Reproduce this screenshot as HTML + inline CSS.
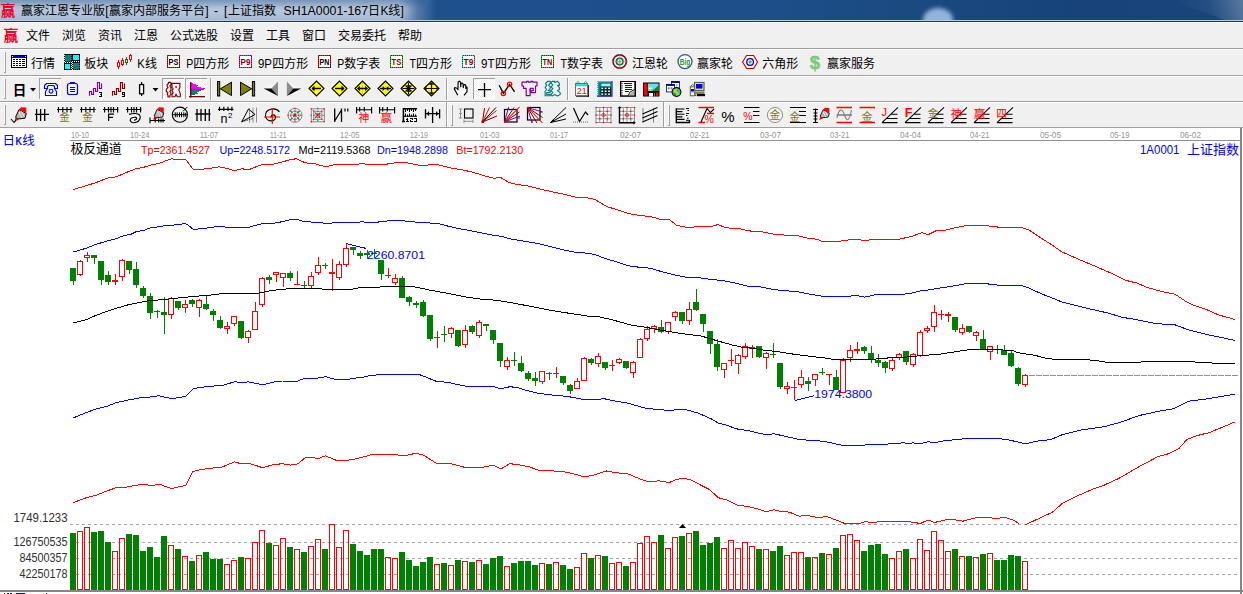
<!DOCTYPE html>
<html><head><meta charset="utf-8"><title>chart</title>
<style>html,body{margin:0;padding:0;background:#f0f0f0;overflow:hidden}svg{display:block}text{font-family:"Liberation Sans","Noto Sans CJK SC",sans-serif}</style>
</head><body>
<svg width="1243" height="594" viewBox="0 0 1243 594">
<defs>
<linearGradient id="tbg" x1="0" y1="0" x2="1" y2="0"><stop offset="0" stop-color="#20518f"/><stop offset=".36" stop-color="#1f508e"/><stop offset=".6" stop-color="#1e4f8b"/><stop offset=".73" stop-color="#1a4a80"/><stop offset=".88" stop-color="#17427a"/><stop offset="1" stop-color="#19457c"/></linearGradient>
<linearGradient id="glow" x1="0" y1="0" x2="450" y2="0" gradientUnits="userSpaceOnUse"><stop offset="0" stop-color="#fff" stop-opacity=".56"/><stop offset=".885" stop-color="#fff" stop-opacity=".56"/><stop offset=".93" stop-color="#fff" stop-opacity=".22"/><stop offset=".97" stop-color="#fff" stop-opacity="0"/></linearGradient>
<linearGradient id="topd" x1="0" y1="0" x2="0" y2="1"><stop offset="0" stop-color="#1f508e" stop-opacity=".32"/><stop offset="1" stop-color="#1f508e" stop-opacity="0"/></linearGradient>
<linearGradient id="streak" x1="1180" y1="20" x2="1243" y2="0" gradientUnits="userSpaceOnUse"><stop offset="0" stop-color="#fff" stop-opacity="0"/><stop offset=".5" stop-color="#fff" stop-opacity=".06"/><stop offset="1" stop-color="#fff" stop-opacity=".28"/></linearGradient>
<filter id="b5" x="-10%" y="-200%" width="120%" height="500%"><feGaussianBlur stdDeviation="5"/></filter>
<filter id="b3" x="-50%" y="-50%" width="200%" height="200%"><feGaussianBlur stdDeviation="2"/></filter>
<clipPath id="tclip"><rect x="0" y="0" width="1243" height="20"/></clipPath>
<pattern id="dith2" width="2" height="2" patternUnits="userSpaceOnUse"><rect width="1" height="1" fill="#003030"/><rect x="1" y="1" width="1" height="1" fill="#003030"/></pattern><pattern id="dith" width="2" height="2" patternUnits="userSpaceOnUse"><rect width="2" height="2" fill="#ffffff"/><rect width="1" height="1" fill="#f0f0f0"/><rect x="1" y="1" width="1" height="1" fill="#f0f0f0"/></pattern>
</defs>
<rect x="0" y="0" width="1243" height="594" fill="#f0f0f0"/>
<rect x="0" y="0" width="1243" height="20" fill="url(#tbg)"/>
<ellipse cx="938" cy="20" rx="15" ry="12" fill="#a8c8ec" opacity=".85" filter="url(#b3)" clip-path="url(#tclip)"/>
<rect x="0" y="0" width="450" height="20" fill="url(#glow)"/>
<rect x="-30" y="5" width="440" height="12" rx="6" fill="#fff" opacity=".30" filter="url(#b5)" clip-path="url(#tclip)"/>
<path d="M1170 0L1243 0L1243 20L1225 20Z" fill="url(#streak)"/>
<rect x="0" y="0" width="425" height="8" fill="url(#topd)"/>
<rect x="0" y="20" width="1243" height="1" fill="#b9cde6"/>
<rect x="0" y="21" width="1243" height="1" fill="#1b3556"/>
<rect x="0" y="22" width="1243" height="1" fill="#ffffff"/>
<text x="0.80" y="16.20" font-family="'Liberation Serif','Noto Serif CJK SC',serif" font-size="14.6" font-weight="bold" fill="#f4002a">赢</text>
<text x="21.00" y="14.90" font-family="'Liberation Sans','Noto Sans CJK SC',sans-serif" font-size="12" fill="#000">赢家江恩专业版</text>
<text x="105.30" y="14.90" font-family="Liberation Sans" font-size="12" fill="#000" text-anchor="start" font-weight="normal" >[</text>
<text x="109.00" y="14.90" font-family="'Liberation Sans','Noto Sans CJK SC',sans-serif" font-size="12" fill="#000">赢家内部服务平台</text>
<text x="205.30" y="14.90" font-family="Liberation Sans" font-size="12" fill="#000" text-anchor="start" font-weight="normal" >]</text>
<text x="214.00" y="14.90" font-family="Liberation Sans" font-size="12" fill="#000" text-anchor="start" font-weight="normal" >-</text>
<text x="224.00" y="14.90" font-family="Liberation Sans" font-size="12" fill="#000" text-anchor="start" font-weight="normal" >[</text>
<text x="228.00" y="14.90" font-family="'Liberation Sans','Noto Sans CJK SC',sans-serif" font-size="12" fill="#000">上证指数</text>
<text x="283.50" y="14.90" font-family="Liberation Sans" font-size="12" fill="#000" text-anchor="start" font-weight="normal" textLength="84.50" lengthAdjust="spacingAndGlyphs" >SH1A0001-167</text>
<text x="368.00" y="14.90" font-family="'Liberation Sans','Noto Sans CJK SC',sans-serif" font-size="12" fill="#000">日</text>
<text x="380.50" y="14.90" font-family="Liberation Sans" font-size="12" fill="#000" text-anchor="start" font-weight="normal" >K</text>
<text x="388.30" y="14.90" font-family="'Liberation Sans','Noto Sans CJK SC',sans-serif" font-size="12" fill="#000">线</text>
<text x="400.60" y="14.90" font-family="Liberation Sans" font-size="12" fill="#000" text-anchor="start" font-weight="normal" >]</text>
<text x="3.60" y="40.60" font-family="'Liberation Serif','Noto Serif CJK SC',serif" font-size="14.8" font-weight="bold" fill="#f4002a">赢</text>
<text x="26.00" y="40.20" font-family="'Liberation Sans','Noto Sans CJK SC',sans-serif" font-size="12" fill="#000">文件</text>
<text x="62.00" y="40.20" font-family="'Liberation Sans','Noto Sans CJK SC',sans-serif" font-size="12" fill="#000">浏览</text>
<text x="98.00" y="40.20" font-family="'Liberation Sans','Noto Sans CJK SC',sans-serif" font-size="12" fill="#000">资讯</text>
<text x="134.00" y="40.20" font-family="'Liberation Sans','Noto Sans CJK SC',sans-serif" font-size="12" fill="#000">江恩</text>
<text x="170.00" y="40.20" font-family="'Liberation Sans','Noto Sans CJK SC',sans-serif" font-size="12" fill="#000">公式选股</text>
<text x="230.00" y="40.20" font-family="'Liberation Sans','Noto Sans CJK SC',sans-serif" font-size="12" fill="#000">设置</text>
<text x="266.00" y="40.20" font-family="'Liberation Sans','Noto Sans CJK SC',sans-serif" font-size="12" fill="#000">工具</text>
<text x="302.00" y="40.20" font-family="'Liberation Sans','Noto Sans CJK SC',sans-serif" font-size="12" fill="#000">窗口</text>
<text x="338.00" y="40.20" font-family="'Liberation Sans','Noto Sans CJK SC',sans-serif" font-size="12" fill="#000">交易委托</text>
<text x="398.00" y="40.20" font-family="'Liberation Sans','Noto Sans CJK SC',sans-serif" font-size="12" fill="#000">帮助</text>
<rect x="0" y="48" width="1243" height="1" fill="#a0a0a0"/>
<rect x="0" y="49" width="1243" height="1" fill="#ffffff"/>
<rect x="0" y="75" width="1243" height="1" fill="#a0a0a0"/>
<rect x="0" y="76" width="1243" height="1" fill="#ffffff"/>
<rect x="0" y="101" width="1243" height="1" fill="#a0a0a0"/>
<rect x="0" y="102" width="1243" height="1" fill="#ffffff"/>
<rect x="0" y="127" width="1243" height="1" fill="#a0a0a0"/>
<rect x="4" y="52" width="1" height="20" fill="#ffffff"/><rect x="5" y="52" width="1" height="20" fill="#a0a0a0"/><rect x="4" y="72" width="2" height="1" fill="#a0a0a0"/>
<rect x="4" y="79" width="1" height="19" fill="#ffffff"/><rect x="5" y="79" width="1" height="19" fill="#a0a0a0"/><rect x="4" y="98" width="2" height="1" fill="#a0a0a0"/>
<rect x="4" y="105" width="1" height="19" fill="#ffffff"/><rect x="5" y="105" width="1" height="19" fill="#a0a0a0"/><rect x="4" y="124" width="2" height="1" fill="#a0a0a0"/>
<rect x="11" y="55" width="16" height="13" fill="#000" shape-rendering="crispEdges"/><rect x="12" y="56" width="14" height="11" fill="#fff" shape-rendering="crispEdges"/><rect x="12" y="56" width="14" height="2" fill="#0000e0" shape-rendering="crispEdges"/><rect x="12" y="56" width="1" height="1" fill="#fff" shape-rendering="crispEdges"/><rect x="25" y="56" width="1" height="1" fill="#fff" shape-rendering="crispEdges"/><rect x="13" y="59" width="2" height="1" fill="#000" shape-rendering="crispEdges"/><rect x="16" y="59" width="2" height="1" fill="#000" shape-rendering="crispEdges"/><rect x="19" y="59" width="2" height="1" fill="#000" shape-rendering="crispEdges"/><rect x="22" y="59" width="3" height="1" fill="#000" shape-rendering="crispEdges"/><rect x="13" y="61" width="2" height="1" fill="#000" shape-rendering="crispEdges"/><rect x="16" y="61" width="2" height="1" fill="#000" shape-rendering="crispEdges"/><rect x="19" y="61" width="2" height="1" fill="#000" shape-rendering="crispEdges"/><rect x="22" y="61" width="3" height="1" fill="#000" shape-rendering="crispEdges"/><rect x="13" y="63" width="2" height="1" fill="#000" shape-rendering="crispEdges"/><rect x="16" y="63" width="2" height="1" fill="#000" shape-rendering="crispEdges"/><rect x="19" y="63" width="2" height="1" fill="#000" shape-rendering="crispEdges"/><rect x="22" y="63" width="3" height="1" fill="#000" shape-rendering="crispEdges"/><rect x="13" y="65" width="2" height="1" fill="#000" shape-rendering="crispEdges"/><rect x="16" y="65" width="2" height="1" fill="#000" shape-rendering="crispEdges"/><rect x="19" y="65" width="2" height="1" fill="#000" shape-rendering="crispEdges"/><rect x="22" y="65" width="3" height="1" fill="#000" shape-rendering="crispEdges"/><text x="31.00" y="67.70" font-family="'Liberation Sans','Noto Sans CJK SC',sans-serif" font-size="12" fill="#000">行情</text><rect x="64" y="54" width="16" height="16" fill="url(#dith2)" shape-rendering="crispEdges"/><rect x="64.5" y="54.5" width="7" height="7" fill="#008080" stroke="#000" stroke-dasharray="1 1" shape-rendering="crispEdges"/><rect x="72.5" y="54.5" width="7" height="6" fill="#00ffff" stroke="#000" shape-rendering="crispEdges"/><rect x="64.5" y="63.5" width="6" height="6" fill="#00ffff" stroke="#000" shape-rendering="crispEdges"/><rect x="72.5" y="62.5" width="7" height="7" fill="#008080" stroke="#000" stroke-dasharray="1 1" shape-rendering="crispEdges"/><text x="84.30" y="67.70" font-family="'Liberation Sans','Noto Sans CJK SC',sans-serif" font-size="12" fill="#000">板块</text><rect x="118" y="60" width="1" height="9" fill="#ff0000" shape-rendering="crispEdges"/><rect x="117" y="62" width="3" height="5" fill="#ff0000" shape-rendering="crispEdges"/><rect x="118" y="63" width="1" height="3" fill="#f0f0f0" shape-rendering="crispEdges"/><rect x="122" y="58" width="1" height="8" fill="#ff0000" shape-rendering="crispEdges"/><rect x="121" y="60" width="3" height="5" fill="#ff0000" shape-rendering="crispEdges"/><rect x="122" y="61" width="1" height="3" fill="#f0f0f0" shape-rendering="crispEdges"/><rect x="126" y="57" width="1" height="8" fill="#008000" shape-rendering="crispEdges"/><rect x="125" y="59" width="3" height="4" fill="#008000" shape-rendering="crispEdges"/><rect x="126" y="60" width="1" height="2" fill="#f0f0f0" shape-rendering="crispEdges"/><rect x="130" y="54" width="1" height="8" fill="#ff0000" shape-rendering="crispEdges"/><rect x="129" y="55" width="3" height="5" fill="#ff0000" shape-rendering="crispEdges"/><rect x="130" y="56" width="1" height="3" fill="#f0f0f0" shape-rendering="crispEdges"/><text x="137.30" y="67.70" font-family="Liberation Sans" font-size="12" fill="#000" text-anchor="start" font-weight="normal" textLength="7.50" lengthAdjust="spacingAndGlyphs" >K</text><text x="145.00" y="67.70" font-family="'Liberation Sans','Noto Sans CJK SC',sans-serif" font-size="12" fill="#000">线</text><rect x="167.5" y="55.5" width="12" height="12" fill="#fff" stroke="#ff0000" stroke-width="1" shape-rendering="crispEdges"/><rect x="167.5" y="55.5" width="12" height="12" fill="none" stroke="#400000" stroke-opacity=".75" stroke-width="1" stroke-dasharray="1 1" shape-rendering="crispEdges"/><text x="168.60" y="65.00" font-family="Liberation Sans" font-size="8.5" fill="#000" text-anchor="start" font-weight="bold" textLength="9.80" lengthAdjust="spacingAndGlyphs" >PS</text><text x="186.30" y="67.70" font-family="Liberation Sans" font-size="12" fill="#000" text-anchor="start" font-weight="normal" textLength="7.00" lengthAdjust="spacingAndGlyphs" >P</text><text x="193.30" y="67.70" font-family="'Liberation Sans','Noto Sans CJK SC',sans-serif" font-size="12" fill="#000">四方形</text><rect x="239.5" y="55.5" width="12" height="12" fill="#fff" stroke="#ff00ff" stroke-width="1" shape-rendering="crispEdges"/><rect x="239.5" y="55.5" width="12" height="12" fill="none" stroke="#400000" stroke-opacity=".75" stroke-width="1" stroke-dasharray="1 1" shape-rendering="crispEdges"/><text x="240.60" y="65.00" font-family="Liberation Sans" font-size="8.5" fill="#800000" text-anchor="start" font-weight="bold" textLength="9.80" lengthAdjust="spacingAndGlyphs" >P9</text><text x="258.00" y="67.70" font-family="Liberation Sans" font-size="12" fill="#000" text-anchor="start" font-weight="normal" textLength="14.00" lengthAdjust="spacingAndGlyphs" >9P</text><text x="272.30" y="67.70" font-family="'Liberation Sans','Noto Sans CJK SC',sans-serif" font-size="12" fill="#000">四方形</text><rect x="318.5" y="55.5" width="12" height="12" fill="#fff" stroke="#ff0000" stroke-width="1" shape-rendering="crispEdges"/><rect x="318.5" y="55.5" width="12" height="12" fill="none" stroke="#400000" stroke-opacity=".75" stroke-width="1" stroke-dasharray="1 1" shape-rendering="crispEdges"/><text x="319.60" y="65.00" font-family="Liberation Sans" font-size="8.5" fill="#000" text-anchor="start" font-weight="bold" textLength="9.80" lengthAdjust="spacingAndGlyphs" >PN</text><text x="337.30" y="67.70" font-family="Liberation Sans" font-size="12" fill="#000" text-anchor="start" font-weight="normal" textLength="7.00" lengthAdjust="spacingAndGlyphs" >P</text><text x="344.30" y="67.70" font-family="'Liberation Sans','Noto Sans CJK SC',sans-serif" font-size="12" fill="#000">数字表</text><rect x="390.5" y="55.5" width="12" height="12" fill="#fff" stroke="#00d000" stroke-width="1" shape-rendering="crispEdges"/><rect x="390.5" y="55.5" width="12" height="12" fill="none" stroke="#400000" stroke-opacity=".75" stroke-width="1" stroke-dasharray="1 1" shape-rendering="crispEdges"/><text x="391.60" y="65.00" font-family="Liberation Sans" font-size="8.5" fill="#800000" text-anchor="start" font-weight="bold" textLength="9.80" lengthAdjust="spacingAndGlyphs" >TS</text><text x="409.50" y="67.70" font-family="Liberation Sans" font-size="12" fill="#000" text-anchor="start" font-weight="normal" textLength="6.50" lengthAdjust="spacingAndGlyphs" >T</text><text x="416.00" y="67.70" font-family="'Liberation Sans','Noto Sans CJK SC',sans-serif" font-size="12" fill="#000">四方形</text><rect x="462.5" y="55.5" width="12" height="12" fill="#fff" stroke="#00e0e0" stroke-width="1" shape-rendering="crispEdges"/><rect x="462.5" y="55.5" width="12" height="12" fill="none" stroke="#400000" stroke-opacity=".75" stroke-width="1" stroke-dasharray="1 1" shape-rendering="crispEdges"/><text x="463.60" y="65.00" font-family="Liberation Sans" font-size="8.5" fill="#800000" text-anchor="start" font-weight="bold" textLength="9.80" lengthAdjust="spacingAndGlyphs" >T9</text><text x="481.00" y="67.70" font-family="Liberation Sans" font-size="12" fill="#000" text-anchor="start" font-weight="normal" textLength="13.50" lengthAdjust="spacingAndGlyphs" >9T</text><text x="495.00" y="67.70" font-family="'Liberation Sans','Noto Sans CJK SC',sans-serif" font-size="12" fill="#000">四方形</text><rect x="541.5" y="55.5" width="12" height="12" fill="#fff" stroke="#00d000" stroke-width="1" shape-rendering="crispEdges"/><rect x="541.5" y="55.5" width="12" height="12" fill="none" stroke="#400000" stroke-opacity=".75" stroke-width="1" stroke-dasharray="1 1" shape-rendering="crispEdges"/><text x="542.60" y="65.00" font-family="Liberation Sans" font-size="8.5" fill="#800000" text-anchor="start" font-weight="bold" textLength="9.80" lengthAdjust="spacingAndGlyphs" >TN</text><text x="560.50" y="67.70" font-family="Liberation Sans" font-size="12" fill="#000" text-anchor="start" font-weight="normal" textLength="6.50" lengthAdjust="spacingAndGlyphs" >T</text><text x="567.00" y="67.70" font-family="'Liberation Sans','Noto Sans CJK SC',sans-serif" font-size="12" fill="#000">数字表</text><circle cx="619.7" cy="61.5" r="6.7" fill="none" stroke="#801020" stroke-width="1.7"/><circle cx="619.7" cy="61.5" r="3.3" fill="none" stroke="#007838" stroke-width="1.6"/><circle cx="619.7" cy="61.5" r="1.3" fill="#f08080"/><path d="M612.2 61.5h15M619.7 54.0v15" stroke="#909090" stroke-width="0.6" fill="none" /><text x="632.00" y="67.70" font-family="'Liberation Sans','Noto Sans CJK SC',sans-serif" font-size="12" fill="#000">江恩轮</text><circle cx="685" cy="61.6" r="7" fill="#fff" stroke="#2c5c8c" stroke-width="1.3"/><text x="679.80" y="65.00" font-family="Liberation Sans" font-size="9.6" fill="#2f942f" text-anchor="start" font-weight="bold" textLength="10.60" lengthAdjust="spacingAndGlyphs" >Big</text><text x="697.00" y="67.70" font-family="'Liberation Sans','Noto Sans CJK SC',sans-serif" font-size="12" fill="#000">赢家轮</text><path d="M742.6 62L746.6 55.5H753.6L757.6 62L753.6 68.5H746.6Z" fill="#f8f0f0" stroke="#c00000" stroke-width="1.1"/><circle cx="750.1" cy="62" r="3.3" fill="#fff" stroke="#0000c8" stroke-width="1.3"/><circle cx="750.1" cy="62" r="1.1" fill="#fff" stroke="#009000" stroke-width="1"/><text x="762.30" y="67.70" font-family="'Liberation Sans','Noto Sans CJK SC',sans-serif" font-size="12" fill="#000">六角形</text><text x="815.00" y="68.60" font-family="Liberation Sans" font-size="18.5" fill="#7cc87c" text-anchor="middle" font-weight="bold" stroke="#7cc87c" stroke-width=".5">$</text><text x="827.00" y="67.70" font-family="'Liberation Sans','Noto Sans CJK SC',sans-serif" font-size="12" fill="#000">赢家服务</text>
<text x="12.80" y="94.60" font-family="'Liberation Sans','Noto Sans CJK SC',sans-serif" font-size="13.6" font-weight="bold" fill="#000">日</text><path d="M30 88h6l-3 3.5z" fill="#000"/><rect x="39" y="78" width="22" height="21" fill="url(#dith)" shape-rendering="crispEdges"/><rect x="39" y="78" width="22" height="1" fill="#a0a0a0" shape-rendering="crispEdges"/><rect x="39" y="78" width="1" height="21" fill="#a0a0a0" shape-rendering="crispEdges"/><rect x="40" y="98" width="21" height="1" fill="#fff" shape-rendering="crispEdges"/><rect x="60" y="79" width="1" height="20" fill="#fff" shape-rendering="crispEdges"/><path d="M46.5 83.5H55.5L57.5 85.5V88.5H54.5V86.5L53.5 85.5H48.5L47.5 86.5V88.5H44.5V85.5ZM47.5 88.5L45.5 91.5V95.5H56.5V91.5L54.5 88.5" stroke="#0000ff" stroke-width="1.1" fill="none" stroke-linejoin="round"/><circle cx="51" cy="91.2" r="1.9" fill="none" stroke="#0000ff" stroke-width="1.1"/><rect x="67.5" y="83.5" width="10" height="11" rx="2" fill="none" stroke="#0000ff" stroke-width="1.2"/><path d="M70.5 83V82.5H74.5V83" stroke="#0000ff" stroke-width="1.1" fill="none" /><path d="M70 87.5H75M70 89.5H75M70 91.5H75" stroke="#0000ff" stroke-width="1" fill="none" /><path d="M89.5 95.7V91.5H91.5V94.5H93.5V88.5H95.5V91.5H97.5V82.5H99.5V88.5H101.5V83.5" stroke="#8000a0" stroke-width="1.15" fill="none" stroke-linejoin="miter"/><path d="M99.0 92h1v1h-1zM100.0 92h1v1h-1zM101.0 92h1v1h-1zM101.0 93h1v1h-1zM100.0 94h1v1h-1zM101.0 94h1v1h-1zM101.0 95h1v1h-1zM99.0 96h1v1h-1zM100.0 96h1v1h-1zM101.0 96h1v1h-1z" fill="#000" shape-rendering="crispEdges"/><path d="M112.5 95.7V91.5H114.5V94.5H116.5V88.5H118.5V91.5H120.5V82.5H122.5V88.5H124.5V83.5" stroke="#800000" stroke-width="1.15" fill="none" stroke-linejoin="miter"/><path d="M122.0 92h1v1h-1zM123.0 92h1v1h-1zM124.0 92h1v1h-1zM122.0 93h1v1h-1zM124.0 93h1v1h-1zM122.0 94h1v1h-1zM123.0 94h1v1h-1zM124.0 94h1v1h-1zM124.0 95h1v1h-1zM122.0 96h1v1h-1zM123.0 96h1v1h-1zM124.0 96h1v1h-1z" fill="#000" shape-rendering="crispEdges"/><rect x="141" y="82" width="1.2" height="14" fill="#000" /><rect x="139.6" y="84.6" width="4" height="9.2" fill="#fff" stroke="#000" stroke-width="1.3"/><path d="M152.5 88h6l-3 3.5z" fill="#000"/><rect x="162" y="78" width="22" height="21" fill="url(#dith)" shape-rendering="crispEdges"/><rect x="162" y="78" width="22" height="1" fill="#a0a0a0" shape-rendering="crispEdges"/><rect x="162" y="78" width="1" height="21" fill="#a0a0a0" shape-rendering="crispEdges"/><rect x="163" y="98" width="21" height="1" fill="#fff" shape-rendering="crispEdges"/><rect x="183" y="79" width="1" height="20" fill="#fff" shape-rendering="crispEdges"/><path d="M168.4 82.3L170.9 82.3L170.9 84.9L169.9 86.0L170.9 87.6L170.9 90.3L169.7 91.4L170.9 92.6L170.9 94.1L169.9 95.3L169.9 97.0L168.0 97.0L168.0 95.3L167.1 94.1L168.0 93.0L166.3 91.4L166.3 89.1L168.0 87.6L167.1 86.0L167.1 84.5L168.4 83.7ZM172.0 83.3L179.9 83.3L179.9 87.6L178.8 89.5L179.2 91.1L180.3 93.8L180.3 96.7L177.2 96.7L176.1 94.1L174.9 96.7L172.0 96.7L172.0 94.5L173.2 92.6L172.0 90.7L173.2 88.7L172.0 87.6Z" stroke="#800000" stroke-width="1.15" fill="none" stroke-linejoin="round"/><rect x="175.3" y="86.2" width="1.6" height="1.6" fill="#800000" /><rect x="185" y="78" width="22" height="21" fill="url(#dith)" shape-rendering="crispEdges"/><rect x="185" y="78" width="22" height="1" fill="#a0a0a0" shape-rendering="crispEdges"/><rect x="185" y="78" width="1" height="21" fill="#a0a0a0" shape-rendering="crispEdges"/><rect x="186" y="98" width="21" height="1" fill="#fff" shape-rendering="crispEdges"/><rect x="206" y="79" width="1" height="20" fill="#fff" shape-rendering="crispEdges"/><rect x="191" y="83" width="2" height="1" fill="#ff00ff" shape-rendering="crispEdges"/><rect x="191" y="84" width="4.5" height="1" fill="#ff00ff" shape-rendering="crispEdges"/><rect x="191" y="85" width="7" height="1" fill="#ff00ff" shape-rendering="crispEdges"/><rect x="191" y="86" width="6" height="1" fill="#ff00ff" shape-rendering="crispEdges"/><rect x="191" y="87" width="10" height="1" fill="#ff00ff" shape-rendering="crispEdges"/><rect x="191" y="88" width="14" height="1" fill="#ff00ff" shape-rendering="crispEdges"/><rect x="191" y="89" width="12.5" height="1" fill="#008080" shape-rendering="crispEdges"/><rect x="191" y="90" width="9.5" height="1" fill="#008080" shape-rendering="crispEdges"/><rect x="191" y="91" width="7.5" height="1" fill="#008080" shape-rendering="crispEdges"/><rect x="191" y="92" width="5.5" height="1" fill="#008080" shape-rendering="crispEdges"/><rect x="191" y="93" width="7" height="1" fill="#008080" shape-rendering="crispEdges"/><rect x="191" y="94" width="3.5" height="1" fill="#008080" shape-rendering="crispEdges"/><rect x="190" y="82" width="1.4" height="15.5" fill="#800000" /><rect x="189" y="96" width="16" height="1.3" fill="#800000" /><rect x="210" y="78" width="1" height="22" fill="#a0a0a0" shape-rendering="crispEdges"/><rect x="211" y="78" width="1" height="22" fill="#fff" shape-rendering="crispEdges"/><rect x="217.5" y="81.5" width="2.2" height="14.5" fill="#808000" stroke="#000" stroke-width="1"/><path d="M231.5 82.2V95.6L220.3 88.8Z" fill="#808000" stroke="#000" stroke-width="1"/><path d="M240.5 82.2V95.6L251.7 88.8Z" fill="#808000" stroke="#000" stroke-width="1"/><rect x="252.4" y="81.5" width="2.2" height="14.5" fill="#808000" stroke="#000" stroke-width="1"/><path d="M263.7 88.5L278 81.4L271.5 88.5Z" fill="#f8f8f8"/><path d="M278 81.4V95.9L271.5 88.5Z" fill="#8c8c8c"/><path d="M263.7 88.5H271.5L278 95.9Z" fill="#000"/><path d="M301.2 88.5L286.9 81.4L293.3 88.5Z" fill="#f8f8f8"/><path d="M286.9 81.4V95.9L293.3 88.5Z" fill="#8c8c8c"/><path d="M301.2 88.5H293.3L286.9 95.9Z" fill="#000"/><path d="M309.0 88.5L316.5 81.0L324.0 88.5L316.5 96.0Z" fill="#ffff00" stroke="#000" stroke-width="1.1"/><path d="M332.0 88.5L339.5 81.0L347.0 88.5L339.5 96.0Z" fill="#ffff00" stroke="#000" stroke-width="1.1"/><path d="M355.0 88.5L362.5 81.0L370.0 88.5L362.5 96.0Z" fill="#ffff00" stroke="#000" stroke-width="1.1"/><path d="M378.0 88.5L385.5 81.0L393.0 88.5L385.5 96.0Z" fill="#ffff00" stroke="#000" stroke-width="1.1"/><path d="M401.0 88.5L408.5 81.0L416.0 88.5L408.5 96.0Z" fill="#ffff00" stroke="#000" stroke-width="1.1"/><path d="M424.0 88.5L431.5 81.0L439.0 88.5L431.5 96.0Z" fill="#ffff00" stroke="#000" stroke-width="1.1"/><path d="M312.5 88.5H321.0" stroke="#000" stroke-width="1.5" fill="none" /><path d="M311.5 88.5L314.5 85.5L314.5 91.5Z" fill="#000"/><path d="M335.0 88.5H343.5" stroke="#000" stroke-width="1.5" fill="none" /><path d="M344.5 88.5L341.5 91.5L341.5 85.5Z" fill="#000"/><path d="M362.5 82.5V94.5" stroke="#b0b0b0" stroke-width="1" fill="none" stroke-dasharray="2 1"/><path d="M359.5 88.5H365.5" stroke="#000" stroke-width="1.5" fill="none" /><path d="M357.0 88.5L359.8 85.7L359.8 91.3ZM368.0 88.5L365.2 91.3L365.2 85.7Z" fill="#000"/><path d="M385.5 82.5V94.5" stroke="#b0b0b0" stroke-width="1" fill="none" stroke-dasharray="1 2"/><path d="M380.0 88.5H391.0" stroke="#000" stroke-width="1.3" fill="none" /><path d="M385.2 88.5L382.6 91.1L382.6 85.9ZM385.8 88.5L388.4 85.9L388.4 91.1Z" fill="#000"/><path d="M402.5 88.5H414.5M408.5 82.5V94.5M405.5 85.5L411.5 91.5M405.5 91.5L411.5 85.5" stroke="#000" stroke-width="1.1" fill="none" /><path d="M408.5 87.5L406.2 85.2L410.8 85.2ZM408.5 89.5L410.8 91.8L406.2 91.8Z" fill="#000"/><path d="M425.5 88.5H437.5M431.5 84.5V92.5" stroke="#000" stroke-width="1.2" fill="none" /><path d="M431.5 82.2L434.1 84.8L428.9 84.8ZM431.5 94.8L428.9 92.2L434.1 92.2ZM425.0 88.5L426.6 86.9L426.6 90.1ZM438.0 88.5L436.4 90.1L436.4 86.9Z" fill="#000"/><rect x="446" y="78" width="1" height="22" fill="#a0a0a0" shape-rendering="crispEdges"/><rect x="447" y="78" width="1" height="22" fill="#fff" shape-rendering="crispEdges"/><path d="M457.8 95.3L454.3 88.9L454.7 87.6L457 88.2L458 89.8L458.1 82L459.3 81.2L460.5 82.1L460.7 86.8L461 83.4L462.1 82.9L463 83.8L463.3 87.6L463.7 84.8L464.8 84.5L465.7 85.5L465.9 88.4L466.3 86.8L467.1 87.2L467 91.6L464 95.4" fill="#f8f8f8" stroke="#000" stroke-width="1.15" stroke-linejoin="round"/><rect x="473" y="78" width="22" height="21" fill="url(#dith)" shape-rendering="crispEdges"/><rect x="473" y="78" width="22" height="1" fill="#a0a0a0" shape-rendering="crispEdges"/><rect x="473" y="78" width="1" height="21" fill="#a0a0a0" shape-rendering="crispEdges"/><rect x="474" y="98" width="21" height="1" fill="#fff" shape-rendering="crispEdges"/><rect x="494" y="79" width="1" height="20" fill="#fff" shape-rendering="crispEdges"/><path d="M478 89.6H491M484.5 83V97" stroke="#000" stroke-width="1.3" fill="none" /><path d="M499.2 85.3L503.4 93.4L509.6 84.5L514.6 91.8" stroke="#000" stroke-width="1.3" fill="none" /><circle cx="503.4" cy="93.5" r="2.1" fill="none" stroke="#ff0000" stroke-width="1.3"/><circle cx="509.6" cy="84.2" r="2.1" fill="none" stroke="#ff0000" stroke-width="1.3"/><path d="M522.0 82.2L526.6 82.2L526.6 81.3L528.5 81.3L528.5 82.2L530.9 82.2L530.9 81.3L532.8 81.3L532.8 82.2L537.0 82.2L537.0 86.0L535.5 86.0L535.5 92.6L531.2 92.6L531.2 90.7L533.2 90.7L533.2 88.4L530.1 88.4L530.1 95.7L526.2 95.7L526.2 88.4L523.5 88.4L523.5 86.0L522.0 86.0Z" stroke="#8000a0" stroke-width="1.2" fill="none" stroke-linejoin="round"/><rect x="529.5" y="89.2" width="1.5" height="1.5" fill="#8000a0" /><path d="M547.5 81.3L550.2 81.3L550.2 83.3L548.6 85.1L550.2 86.8L550.2 88.7L548.2 90.7L550.2 90.7L550.2 92.6L546.7 92.6L546.7 94.5L550.2 94.5L550.2 95.7L545.1 95.7L545.1 91.4L546.7 89.5L545.1 87.6L546.7 85.3L545.5 83.7ZM552.1 81.3L554.8 81.3L554.8 82.6L557.5 81.3L559.4 83.3L559.4 85.3L557.5 85.3L559.4 87.6L559.4 89.5L557.5 90.7L560.2 92.6L560.2 94.5L557.5 95.9L554.8 94.5L552.1 95.9L550.9 94.5L552.9 92.6L550.9 90.7L552.9 88.7L550.9 86.8L552.9 84.9L550.9 83.3Z" stroke="#008080" stroke-width="1.15" fill="none" stroke-linejoin="round"/><rect x="567" y="78" width="1" height="22" fill="#a0a0a0" shape-rendering="crispEdges"/><rect x="568" y="78" width="1" height="22" fill="#fff" shape-rendering="crispEdges"/><rect x="576" y="95.5" width="13" height="1.2" fill="#000" /><rect x="587.6" y="85" width="1.2" height="11.5" fill="#000" /><rect x="575.5" y="83.5" width="12" height="12" fill="#fff" stroke="#707070" stroke-width="1"/><rect x="576" y="84" width="11" height="2.3" fill="#00e8e8" /><path d="M576.5 83L578 81.3L579.5 83M584 83L585.5 81.3L587 83" stroke="#808080" stroke-width="0.9" fill="none" /><text x="581.80" y="93.60" font-family="Liberation Sans" font-size="9" fill="#ff0000" text-anchor="middle" font-weight="normal" textLength="10.00" lengthAdjust="spacingAndGlyphs" >21</text><rect x="597" y="81" width="15.5" height="15.7" fill="#000080" /><rect x="597" y="81" width="14.5" height="14.7" fill="#00e0e0" /><rect x="598.2" y="82.2" width="13.3" height="13.5" fill="#008080" /><path d="M597.7 82V95.5" stroke="#fff" stroke-width="1" fill="none" stroke-dasharray="1 1"/><rect x="601.3" y="83.7" width="9" height="2.4" fill="#d8d8d8" /><rect x="600.3" y="87" width="10.8" height="8.3" fill="#002a2a" /><rect x="601.8" y="88.0" width="2.2" height="1.9" fill="#001818" /><rect x="601.3" y="87.6" width="1.9" height="1.5" fill="#f0f0f0" /><rect x="605.1999999999999" y="88.0" width="2.2" height="1.9" fill="#001818" /><rect x="604.6999999999999" y="87.6" width="1.9" height="1.5" fill="#f0f0f0" /><rect x="608.5999999999999" y="88.0" width="2.2" height="1.9" fill="#001818" /><rect x="608.0999999999999" y="87.6" width="1.9" height="1.5" fill="#f0f0f0" /><rect x="601.8" y="90.9" width="2.2" height="1.9" fill="#001818" /><rect x="601.3" y="90.5" width="1.9" height="1.5" fill="#f0f0f0" /><rect x="605.1999999999999" y="90.9" width="2.2" height="1.9" fill="#001818" /><rect x="604.6999999999999" y="90.5" width="1.9" height="1.5" fill="#f0f0f0" /><rect x="608.5999999999999" y="90.9" width="2.2" height="1.9" fill="#001818" /><rect x="608.0999999999999" y="90.5" width="1.9" height="1.5" fill="#f0f0f0" /><rect x="601.8" y="93.8" width="2.2" height="1.9" fill="#001818" /><rect x="601.3" y="93.39999999999999" width="1.9" height="1.5" fill="#f0f0f0" /><rect x="605.1999999999999" y="93.8" width="2.2" height="1.9" fill="#001818" /><rect x="604.6999999999999" y="93.39999999999999" width="1.9" height="1.5" fill="#f0f0f0" /><rect x="608.5999999999999" y="93.8" width="2.2" height="1.9" fill="#001818" /><rect x="608.0999999999999" y="93.39999999999999" width="1.9" height="1.5" fill="#f0f0f0" /><rect x="620" y="81" width="16" height="15.8" fill="#000" /><rect x="621.3" y="82" width="13" height="13.3" fill="#fff" /><path d="M622 83V95.5" stroke="#000" stroke-width="1.2" fill="none" stroke-dasharray="1 1.3"/><path d="M624 83.5H632.3M625 85.5H632.3M625 87.5H632.3M625 89.5H632.3M624.5 91.5H628.5" stroke="#0000ff" stroke-width="1" fill="none" shape-rendering="crispEdges"/><path d="M628.5 95.3L634.3 89.8V95.3Z" fill="#b0b0b0"/><path d="M628.3 95.5L630 92L634.5 89.5" stroke="#000" stroke-width="0.9" fill="none" /><rect x="643" y="82.5" width="16.5" height="14" fill="#000" /><rect x="644" y="83.5" width="3.5" height="12" fill="#ff0000" /><rect x="648" y="83.5" width="10.5" height="7.5" fill="#60e0f0" /><path d="M652 91L658.5 85.5V91Z" fill="#009000"/><rect x="649" y="87.5" width="3" height="1.5" fill="#ffff80" /><rect x="649" y="93" width="6" height="3.5" fill="#fff" /><rect x="653" y="93" width="1.5" height="3.5" fill="#000" /><rect x="647.8" y="91.2" width="11" height="1" fill="#000" /><rect x="656" y="92.5" width="2.5" height="3.5" fill="#ff0000" /><rect x="671.4" y="81.4" width="8" height="7.5" fill="#fff" stroke="#000080" stroke-width=".8"/><rect x="671.4" y="81.2" width="8" height="1.7" fill="#000080" /><rect x="666.4" y="84.4" width="8.2" height="7.5" fill="#fff" stroke="#000080" stroke-width=".8"/><rect x="666.4" y="84.2" width="8.2" height="1.7" fill="#000080" /><rect x="667.8" y="87.3" width="1.8" height="2" fill="#808080" /><rect x="670.6" y="87.3" width="1.8" height="2" fill="#808080" /><rect x="676" y="84.5" width="1.5" height="2" fill="#a0a0a0" /><circle cx="676.5" cy="92" r="4.4" fill="#00d0e8" stroke="#000" stroke-width="1.1"/><path d="M673.5 90L676.5 88.5L679.5 90.5L678 92L679 94.5L676.5 95.8L675.5 93.5L673.8 92.5Z" fill="#c8d000"/><path d="M674.5 93L676 94L675 95.5L673.5 94Z" fill="#008000"/><path d="M677 89.5L679 91L677.5 91.5Z" fill="#008000"/><rect x="694.5" y="82.5" width="9.5" height="8" fill="#e8e8d0" stroke="#606040" stroke-width="1.2"/><rect x="696" y="84" width="6.5" height="4.6" fill="#0000e0" /><rect x="695" y="91.5" width="9.5" height="2.5" fill="#808060" /><rect x="697" y="94" width="8" height="2.2" fill="#000" /><rect x="693.5" y="94.5" width="3" height="1.5" fill="#606040" /><rect x="690.3" y="86.8" width="4.4" height="9" fill="#f8f8f0" stroke="#606040" stroke-width="1"/><rect x="691" y="89" width="3" height="2.5" fill="#0000c0" /><rect x="691" y="92.3" width="3" height="1" fill="#c0c0c0" /><path d="M689.8 87L692.5 84.5L694.5 86" stroke="#606040" stroke-width="0.9" fill="none" />
<path d="M19 109.5L26.3 113.5L25 118.2L17.6 119L15.6 117Z" fill="#b4b4b4" stroke="#000" stroke-width="1"/><path d="M18.8 109.6L21 107.2L26.3 107.6L26.3 113.2L21.4 110.3Z" fill="#ff0000"/><path d="M15.6 117L18.9 119.6L14.7 121.5Z" fill="#ff0000"/><path d="M19 112L22 117.8M21.5 111.5L24.3 116.8" stroke="#f0f0f0" stroke-width="0.9" fill="none" /><path d="M11 119L14.1 122.5L16 120.1" stroke="#000" stroke-width="1.1" fill="none" /><path d="M35 114.4H49M36.6 109V121M40.6 109V121M44.7 109V121" stroke="#000" stroke-width="1.3" fill="none" /><path d="M57 109.5H72.5M58.5 107.0V112.5M62.8 107.0V112.5M67.0 107.0V112.5M70.9 107.0V112.5" stroke="#000" stroke-width="1.15" fill="none" /><text x="59.30" y="121.20" font-family="'Liberation Sans','Noto Sans CJK SC',sans-serif" font-size="10.6" fill="#808000">金</text><path d="M80 109.5H95.5M81.5 107.0V112.5M85.8 107.0V112.5M90.0 107.0V112.5M93.9 107.0V112.5" stroke="#000" stroke-width="1.15" fill="none" /><text x="82.30" y="121.20" font-family="'Liberation Sans','Noto Sans CJK SC',sans-serif" font-size="10.6" fill="#808000">金</text><path d="M103 109.5H118.5M104.6 107.0V112.5M108.5 107.0V112.5M111.0 107.0V112.5M113.5 107.0V112.5M117.6 107.0V112.5" stroke="#000" stroke-width="1.15" fill="none" /><path d="M108.6 121V114.1H114M108.6 117.3H113" stroke="#000" stroke-width="1.15" fill="none" /><path d="M126 109.5H141.5M127.6 107.0V112.5M131.5 107.0V112.5M134.0 107.0V112.5M136.5 107.0V112.5M140.6 107.0V112.5" stroke="#000" stroke-width="1.15" fill="none" /><path d="M129 114.4C133 113 138 113.2 139.6 115C141.3 117.5 139.5 121.3 136.3 122.3C133.5 123.2 130.6 122.6 130.2 120.4C129.8 118.2 133.5 116.8 135.8 117.4C137.6 118 136.5 120.3 134 120.1" stroke="#000" stroke-width="1.15" fill="none" /><g transform="translate(150 107) scale(.9)"><path d="M8 2.5L15.3 6.5L14 11.2L6.6 12L4.6 10Z" fill="#b4b4b4" stroke="#000" stroke-width="1"/><path d="M7.8 2.6L10 0.2L15.3 0.6L15.3 6.2L10.4 3.3Z" fill="#ff0000"/><path d="M4.6 10L7.9 12.6L3.7 14.5Z" fill="#ff0000"/><path d="M8 5L11 10.8M10.5 4.5L13.3 9.8" stroke="#f0f0f0" stroke-width="0.9" fill="none" /></g><path d="M149.5 120.5H165M150 117.5V123.3M155.2 118.5V122.5M158.7 118.5V122.5M161 118.5V122.5M163 118.5V122.5" stroke="#000" stroke-width="1.15" fill="none" /><circle cx="179.9" cy="114.7" r="7.6" fill="none" stroke="#000" stroke-width="1.1"/><path d="M172.5 114.7H187.5M175.3 112.3V117.2M177.2 112.3V117.2M179.5 112.3V117.2M181.5 112.3V117.2M183.8 112.3V117.2M185.7 112.8V116.8M183 111.3L187.3 107" stroke="#000" stroke-width="1" fill="none" /><path d="M195.3 114H210.5M197 109V121M201 109V121M205.3 109V121M209.3 109V121" stroke="#000" stroke-width="1.3" fill="none" /><path d="M218 109.3H233.5M219.5 106.8V111.1M223.8 106.8V111.1M228.0 106.8V111.1M231.9 106.8V111.1" stroke="#000" stroke-width="1.15" fill="none" /><text x="220.50" y="122.50" font-family="Liberation Sans" font-size="12.5" fill="#000" text-anchor="start" font-weight="normal" >n</text><text x="228.00" y="117.50" font-family="Liberation Sans" font-size="8" fill="#000" text-anchor="start" font-weight="normal" >2</text><path d="M249.5 108V122.5M253 107.5V122.5M256.5 107.5V122.5" stroke="#909090" stroke-width="1" fill="none" /><path d="M241.7 121.8L248.5 109L255 114.5Z" stroke="#000" stroke-width="1" fill="none" /><path d="M241.7 121.8L253 118.5" stroke="#000" stroke-width="0.8" fill="none" stroke-dasharray="1.5 1"/><path d="M271 117.5C271 114 275.5 114 275.5 117.5C275.5 122 266.5 122.5 265.5 116C265 109 275 106.5 279.5 112" stroke="#000" stroke-width="1.1" fill="none" /><path d="M264 117H280M272.3 108V124" stroke="#ff0000" stroke-width="1.2" fill="none" /><circle cx="295" cy="115.3" r="7" fill="none" stroke="#808080" stroke-width=".9"/><circle cx="295" cy="115.3" r="4.3" fill="none" stroke="#808080" stroke-width=".9"/><path d="M287.5 115.3H302.5M295 107.8V122.8" stroke="#ff0000" stroke-width="1.1" fill="none" stroke-dasharray="1.5 1"/><path d="M290 110.3L300 120.3M290 120.3L300 110.3" stroke="#008080" stroke-width="1.2" fill="none" stroke-dasharray="3.5 1.5"/><path d="M293.5 113.8L296.5 116.8M293.5 116.8L296.5 113.8" stroke="#ff0000" stroke-width="0.9" fill="none" /><rect x="311.3" y="108.8" width="13" height="13" fill="none" stroke="#808080" stroke-width=".9"/><rect x="313.8" y="111.3" width="8" height="8" fill="none" stroke="#808080" stroke-width=".9"/><rect x="316.0" y="113.5" width="3.6" height="3.6" fill="none" stroke="#808080" stroke-width=".8"/><path d="M310.3 115.3H325.3M317.8 107.8V122.8" stroke="#008080" stroke-width="1.1" fill="none" stroke-dasharray="1.5 1.5"/><path d="M310.8 108.3L324.8 122.3M310.8 122.3L324.8 108.3" stroke="#ff0000" stroke-width="1.1" fill="none" stroke-dasharray="1.5 1.5"/><path d="M316.3 113.8L319.3 116.8M316.3 116.8L319.3 113.8" stroke="#ff0000" stroke-width="0.9" fill="none" /><path d="M334.7 108.5V122M334.7 121L341.5 110M341.5 108.5V122" stroke="#000" stroke-width="1.3" fill="none" /><path d="M345 108.5V111.5M347.8 108.5V111.5" stroke="#000" stroke-width="1.2" fill="none" /><path d="M356.6 107V113.5M356.6 109.7H372M359.7 107V111.5M364.3 107V111.5M371.6 107V113.5" stroke="#000" stroke-width="1.15" fill="none" /><text x="358.60" y="122.00" font-family="'Liberation Sans','Noto Sans CJK SC',sans-serif" font-size="10.8" fill="#ff0000">神</text><path d="M379.6 107V113.5M379.6 109.7H395M382.7 107V111.5M387.3 107V111.5M394.6 107V113.5" stroke="#000" stroke-width="1.15" fill="none" /><text x="380.50" y="122.00" font-family="'Liberation Sans','Noto Sans CJK SC',sans-serif" font-size="11.6" fill="#ff0000">赢</text><path d="M403.4 108V121.5M402 121.4H405M403 108.7H417" stroke="#000" stroke-width="1.5" fill="none" /><path d="M403 116.3H417" stroke="#000" stroke-width="1.1" fill="none" /><path d="M405.5 109V112M407.5 109V111M409.5 109V112M411.5 109V111M413.5 109V112M415.5 109V111" stroke="#000" stroke-width="1" fill="none" /><path d="M405.5 113.5V116M407.5 114.5V116M409.5 113.5V116M411.5 114.5V116M413.5 113.5V116M415.5 114.5V116" stroke="#000" stroke-width="1" fill="none" /><path d="M406.9 118.0h0.9v0.8h-0.9zM406.0 118.8h0.9v0.8h-0.9zM406.9 118.8h0.9v0.8h-0.9zM406.9 119.6h0.9v0.8h-0.9zM406.9 120.4h0.9v0.8h-0.9zM406.0 121.2h0.9v0.8h-0.9zM406.9 121.2h0.9v0.8h-0.9zM407.8 121.2h0.9v0.8h-0.9z" fill="#000" shape-rendering="crispEdges"/><path d="M410.0 118.0h0.9v0.8h-0.9zM410.9 118.0h0.9v0.8h-0.9zM411.8 118.0h0.9v0.8h-0.9zM411.8 118.8h0.9v0.8h-0.9zM410.0 119.6h0.9v0.8h-0.9zM410.9 119.6h0.9v0.8h-0.9zM411.8 119.6h0.9v0.8h-0.9zM410.0 120.4h0.9v0.8h-0.9zM410.0 121.2h0.9v0.8h-0.9zM410.9 121.2h0.9v0.8h-0.9zM411.8 121.2h0.9v0.8h-0.9z" fill="#000" shape-rendering="crispEdges"/><path d="M414.0 118.0h0.9v0.8h-0.9zM414.9 118.0h0.9v0.8h-0.9zM415.8 118.0h0.9v0.8h-0.9zM415.8 118.8h0.9v0.8h-0.9zM414.9 119.6h0.9v0.8h-0.9zM415.8 119.6h0.9v0.8h-0.9zM415.8 120.4h0.9v0.8h-0.9zM414.0 121.2h0.9v0.8h-0.9zM414.9 121.2h0.9v0.8h-0.9zM415.8 121.2h0.9v0.8h-0.9z" fill="#000" shape-rendering="crispEdges"/><path d="M425.5 109.3V118.6M432.6 107V123M439.6 109.3V118.6M425.5 113.7H439.6" stroke="#000" stroke-width="1.3" fill="none" /><path d="M426.5 113.7L429.1 111.1L429.1 116.3ZM438.6 113.7L436.0 116.3L436.0 111.1Z" fill="#000"/><rect x="446" y="102" width="1" height="25" fill="#a0a0a0" shape-rendering="crispEdges"/><rect x="447" y="102" width="1" height="25" fill="#fff" shape-rendering="crispEdges"/><rect x="451" y="105" width="1" height="20" fill="#fff" shape-rendering="crispEdges"/><rect x="452" y="105" width="1" height="20" fill="#a0a0a0" shape-rendering="crispEdges"/><rect x="451" y="125" width="2" height="1" fill="#a0a0a0" shape-rendering="crispEdges"/><rect x="464.5" y="109" width="8.5" height="9" fill="none" stroke="#000" stroke-width="1.1"/><path d="M458.8 109H462.3M458.8 118H462.3M460.5 109V118M459 113.5H462M464 119.5V123M473 119.5V123M464 121.3H473" stroke="#909090" stroke-width="1" fill="none" /><path d="M482.5 122L484.5 108M482.5 122L497 116" stroke="#800000" stroke-width="1" fill="none" /><path d="M482.5 122L489.5 107.5M482.5 122L496.5 110.5" stroke="#ff0000" stroke-width="1" fill="none" /><path d="M482.5 122L496 107.5" stroke="#000" stroke-width="1" fill="none" /><rect x="481.5" y="120.5" width="2.5" height="2.5" fill="#c00000" /><rect x="504.5" y="109.5" width="12.5" height="12.5" fill="none" stroke="#000" stroke-width="1.2"/><path d="M504.5 122L508.5 107.5M504.5 122L520 116M508.5 110V107.5M517 118H520" stroke="#8000a0" stroke-width="1" fill="none" /><path d="M504.5 122L514 107.5M504.5 122L519.5 112" stroke="#800000" stroke-width="1" fill="none" /><path d="M504.5 122L519.5 107" stroke="#ff0000" stroke-width="1.05" fill="none" /><rect x="527.5" y="107.5" width="12.5" height="12.5" fill="none" stroke="#000" stroke-width="1.2"/><path d="M527.5 107.5L532 123M527.5 107.5L542.5 112M540 112H542.5M532 120V123" stroke="#8000a0" stroke-width="1" fill="none" /><path d="M527.5 107.5L537 123M527.5 107.5L542.5 117.5" stroke="#800000" stroke-width="1" fill="none" /><path d="M527.5 107.5L542.5 123" stroke="#ff0000" stroke-width="1.05" fill="none" /><path d="M550.5 122.5L566 107.5M550.5 122.5L566 114M550.5 122.5L566 119" stroke="#000" stroke-width="1" fill="none" /><path d="M550 123L554.5 120.8L553 119.5Z" fill="#000"/><path d="M573.5 108L579.5 121.5L585.5 112L588 115" stroke="#000" stroke-width="1.2" fill="none" /><path d="M573 122H588" stroke="#606060" stroke-width="1" fill="none" stroke-dasharray="1 1"/><rect x="596" y="107.5" width="15" height="15" fill="#fff" /><path d="M596.0 107.5V122.5M599.75 107.5V122.5M603.5 107.5V122.5M607.25 107.5V122.5M611.0 107.5V122.5M596 107.5H611M596 111.25H611M596 115.0H611M596 118.75H611M596 122.5H611" stroke="#909090" stroke-width="1" fill="none" /><rect x="595.4" y="106.9" width="1.3" height="1.3" fill="#ff0000"/><rect x="595.4" y="114.4" width="1.3" height="1.3" fill="#ff0000"/><rect x="595.4" y="121.9" width="1.3" height="1.3" fill="#ff0000"/><rect x="599.1" y="110.7" width="1.3" height="1.3" fill="#ff0000"/><rect x="599.1" y="118.2" width="1.3" height="1.3" fill="#ff0000"/><rect x="602.9" y="106.9" width="1.3" height="1.3" fill="#ff0000"/><rect x="602.9" y="114.4" width="1.3" height="1.3" fill="#ff0000"/><rect x="602.9" y="121.9" width="1.3" height="1.3" fill="#ff0000"/><rect x="606.6" y="110.7" width="1.3" height="1.3" fill="#ff0000"/><rect x="606.6" y="118.2" width="1.3" height="1.3" fill="#ff0000"/><rect x="610.4" y="106.9" width="1.3" height="1.3" fill="#ff0000"/><rect x="610.4" y="114.4" width="1.3" height="1.3" fill="#ff0000"/><rect x="610.4" y="121.9" width="1.3" height="1.3" fill="#ff0000"/><circle cx="603.5" cy="115" r="1.7" fill="none" stroke="#ff0000" stroke-width=".7"/><rect x="619.5" y="107.5" width="15" height="15" fill="#fff" /><path d="M619.5 107.5V122.5M623.25 107.5V122.5M627.0 107.5V122.5M630.75 107.5V122.5M634.5 107.5V122.5M619.5 107.5H634.5M619.5 111.25H634.5M619.5 115.0H634.5M619.5 118.75H634.5M619.5 122.5H634.5" stroke="#909090" stroke-width="1" fill="none" /><rect x="618.9" y="106.9" width="1.3" height="1.3" fill="#ff0000"/><rect x="618.9" y="114.4" width="1.3" height="1.3" fill="#ff0000"/><rect x="618.9" y="121.9" width="1.3" height="1.3" fill="#ff0000"/><rect x="622.6" y="110.7" width="1.3" height="1.3" fill="#ff0000"/><rect x="622.6" y="118.2" width="1.3" height="1.3" fill="#ff0000"/><rect x="626.4" y="106.9" width="1.3" height="1.3" fill="#ff0000"/><rect x="626.4" y="114.4" width="1.3" height="1.3" fill="#ff0000"/><rect x="626.4" y="121.9" width="1.3" height="1.3" fill="#ff0000"/><rect x="630.1" y="110.7" width="1.3" height="1.3" fill="#ff0000"/><rect x="630.1" y="118.2" width="1.3" height="1.3" fill="#ff0000"/><rect x="633.9" y="106.9" width="1.3" height="1.3" fill="#ff0000"/><rect x="633.9" y="114.4" width="1.3" height="1.3" fill="#ff0000"/><rect x="633.9" y="121.9" width="1.3" height="1.3" fill="#ff0000"/><circle cx="627.0" cy="115" r="1.7" fill="none" stroke="#ff0000" stroke-width=".7"/><path d="M619.5 107V122.8H634.5" stroke="#000" stroke-width="1.4" fill="none" /><path d="M619.5 106.2L621.5 108.2L617.5 108.2ZM635.5 122.8L633.5 124.8L633.5 120.8Z" fill="#000"/><path d="M643 108V122.5M653.5 108V122.5" stroke="#808080" stroke-width="1" fill="none" /><path d="M642.5 114L657.5 107.5M642.5 118L657.5 111.5M642.5 122L657.5 115.5" stroke="#000" stroke-width="1.1" fill="none" /><rect x="663" y="102" width="1" height="25" fill="#a0a0a0" shape-rendering="crispEdges"/><rect x="664" y="102" width="1" height="25" fill="#fff" shape-rendering="crispEdges"/><rect x="668" y="105" width="1" height="20" fill="#fff" shape-rendering="crispEdges"/><rect x="669" y="105" width="1" height="20" fill="#a0a0a0" shape-rendering="crispEdges"/><rect x="668" y="125" width="2" height="1" fill="#a0a0a0" shape-rendering="crispEdges"/><path d="M676.3 108.3V122.5H690M689.5 122.5V120" stroke="#000" stroke-width="1.4" fill="none" /><path d="M676 109H684.5M676 111.6H682.5M676 114.2H684.5M676 116.8H682.5M676 119.4H684.5" stroke="#000" stroke-width="1.15" fill="none" /><path d="M686 108.5H689M687.5 110.5H689M686 113.5H689M686 115.5H687.5M687 118.2H688.5M686 120.3H689" stroke="#000" stroke-width="1" fill="none" /><path d="M698.5 107.5H714M698.5 122.5H705M707 113.5H714" stroke="#ff0000" stroke-width="1.3" fill="none" /><path d="M701 122L707 108.5L710.5 112.5L714 109" stroke="#000" stroke-width="1.1" fill="none" /><text x="704.50" y="123.00" font-family="Liberation Sans" font-size="10.5" fill="#ff0000" text-anchor="start" font-weight="normal" >%</text><text x="721.30" y="121.50" font-family="Liberation Sans" font-size="15" fill="#000" text-anchor="start" font-weight="normal" >%</text><path d="M744 107.5H759.5M753 111.5H759.5M753 115.5H759.5M744 122.5H759.5" stroke="#000" stroke-width="1.2" fill="none" /><text x="743.30" y="120.30" font-family="Liberation Sans" font-size="10.5" fill="#ff0000" text-anchor="start" font-weight="normal" >%</text><circle cx="775" cy="115" r="7.6" fill="#f4f4f4" stroke="#909090" stroke-width="1"/><text x="769.60" y="119.20" font-family="'Liberation Sans','Noto Sans CJK SC',sans-serif" font-size="10.8" fill="#808000">金</text><path d="M790 107.5H806M799 111.5H806M799 115.5H806M790 122.5H806" stroke="#000" stroke-width="1.2" fill="none" /><text x="789.30" y="121.00" font-family="'Liberation Sans','Noto Sans CJK SC',sans-serif" font-size="10.8" fill="#808000">金</text><path d="M815.5 108.5V122.5M813 109.5H818M813.5 113H817.5M813.5 116H817.5M813.5 119H817.5M813 122.5H818" stroke="#000" stroke-width="1.2" fill="none" /><g transform="translate(816.3 107.6) scale(.85)"><path d="M8 2.5L15.3 6.5L14 11.2L6.6 12L4.6 10Z" fill="#b4b4b4" stroke="#000" stroke-width="1"/><path d="M7.8 2.6L10 0.2L15.3 0.6L15.3 6.2L10.4 3.3Z" fill="#ff0000"/><path d="M4.6 10L7.9 12.6L3.7 14.5Z" fill="#ff0000"/><path d="M8 5L11 10.8M10.5 4.5L13.3 9.8" stroke="#f0f0f0" stroke-width="0.9" fill="none" /></g><path d="M836.5 107.5H852M836.5 122.5H852" stroke="#ff0000" stroke-width="1.3" fill="none" /><path d="M836.5 115H852" stroke="#404040" stroke-width="1" fill="none" /><path d="M837 118C839 108 842 108 844.5 115C847 122 849 122 851.5 110" stroke="#808080" stroke-width="1.1" fill="none" /><path d="M859.5 107.5H875M859.5 122.5H875" stroke="#ff0000" stroke-width="1.3" fill="none" /><text x="861.30" y="120.50" font-family="'Liberation Sans','Noto Sans CJK SC',sans-serif" font-size="11.5" fill="#808000">金</text><path d="M882 122.6L898 107.3M890.5 114.3H897.5M886.3 118.4H897.5M882 122.6H897.5" stroke="#000" stroke-width="1.05" fill="none" /><text x="881.50" y="116.00" font-family="Liberation Sans" font-size="11" fill="#ff0000" text-anchor="start" font-weight="normal" >J</text><path d="M905 122.6L921 107.3M913.5 114.3H920.5M909.3 118.4H920.5M905 122.6H920.5" stroke="#000" stroke-width="1.05" fill="none" /><text x="904.70" y="117.00" font-family="Liberation Sans" font-size="12.5" fill="#ff0000" text-anchor="start" font-weight="bold" >F</text><path d="M928 122.6L944 107.3M936.5 114.3H943.5M932.3 118.4H943.5M928 122.6H943.5" stroke="#000" stroke-width="1.05" fill="none" /><text x="927.70" y="117.20" font-family="'Liberation Sans','Noto Sans CJK SC',sans-serif" font-size="10.5" fill="#808000">金</text><path d="M951 122.6L967 107.3M959.5 114.3H966.5M955.3 118.4H966.5M951 122.6H966.5" stroke="#000" stroke-width="1.05" fill="none" /><text x="950.80" y="117.60" font-family="'Liberation Sans','Noto Sans CJK SC',sans-serif" font-size="11" fill="#ff0000">神</text><path d="M974 122.6L990 107.3M982.5 114.3H989.5M978.3 118.4H989.5M974 122.6H989.5" stroke="#000" stroke-width="1.05" fill="none" /><text x="973.70" y="118.00" font-family="'Liberation Sans','Noto Sans CJK SC',sans-serif" font-size="11.5" fill="#ff0000">赢</text><path d="M997 122.6L1013 107.3M1005.5 114.3H1012.5M1001.3 118.4H1012.5M997 122.6H1012.5" stroke="#000" stroke-width="1.05" fill="none" /><text x="996.30" y="117.00" font-family="'Liberation Sans','Noto Sans CJK SC',sans-serif" font-size="10.5" fill="#ff0000">四</text>
<rect x="0" y="128" width="1243" height="466" fill="#ffffff"/>
<rect x="0" y="127" width="1243" height="1" fill="#a0a0a0"/>
<rect x="1240" y="128" width="2" height="466" fill="#868686"/>
<rect x="0" y="590" width="1243" height="2" fill="#868686"/>
<rect x="70" y="140" width="1170" height="1" fill="#909090"/>
<text x="71.00" y="138.00" font-family="Liberation Sans" font-size="9" fill="#949494" text-anchor="start" font-weight="normal" textLength="18.00" lengthAdjust="spacingAndGlyphs" >10-10</text>
<text x="130.00" y="138.00" font-family="Liberation Sans" font-size="9" fill="#949494" text-anchor="start" font-weight="normal" textLength="19.50" lengthAdjust="spacingAndGlyphs" >10-24</text>
<text x="200.00" y="138.00" font-family="Liberation Sans" font-size="9" fill="#949494" text-anchor="start" font-weight="normal" textLength="18.00" lengthAdjust="spacingAndGlyphs" >11-07</text>
<text x="270.00" y="138.00" font-family="Liberation Sans" font-size="9" fill="#949494" text-anchor="start" font-weight="normal" textLength="16.50" lengthAdjust="spacingAndGlyphs" >11-21</text>
<text x="340.00" y="138.00" font-family="Liberation Sans" font-size="9" fill="#949494" text-anchor="start" font-weight="normal" textLength="19.50" lengthAdjust="spacingAndGlyphs" >12-05</text>
<text x="410.00" y="138.00" font-family="Liberation Sans" font-size="9" fill="#949494" text-anchor="start" font-weight="normal" textLength="18.00" lengthAdjust="spacingAndGlyphs" >12-19</text>
<text x="480.00" y="138.00" font-family="Liberation Sans" font-size="9" fill="#949494" text-anchor="start" font-weight="normal" textLength="19.50" lengthAdjust="spacingAndGlyphs" >01-03</text>
<text x="550.00" y="138.00" font-family="Liberation Sans" font-size="9" fill="#949494" text-anchor="start" font-weight="normal" textLength="18.00" lengthAdjust="spacingAndGlyphs" >01-17</text>
<text x="620.00" y="138.00" font-family="Liberation Sans" font-size="9" fill="#949494" text-anchor="start" font-weight="normal" textLength="21.00" lengthAdjust="spacingAndGlyphs" >02-07</text>
<text x="690.00" y="138.00" font-family="Liberation Sans" font-size="9" fill="#949494" text-anchor="start" font-weight="normal" textLength="19.50" lengthAdjust="spacingAndGlyphs" >02-21</text>
<text x="760.00" y="138.00" font-family="Liberation Sans" font-size="9" fill="#949494" text-anchor="start" font-weight="normal" textLength="21.00" lengthAdjust="spacingAndGlyphs" >03-07</text>
<text x="830.00" y="138.00" font-family="Liberation Sans" font-size="9" fill="#949494" text-anchor="start" font-weight="normal" textLength="19.50" lengthAdjust="spacingAndGlyphs" >03-21</text>
<text x="900.00" y="138.00" font-family="Liberation Sans" font-size="9" fill="#949494" text-anchor="start" font-weight="normal" textLength="21.00" lengthAdjust="spacingAndGlyphs" >04-04</text>
<text x="970.00" y="138.00" font-family="Liberation Sans" font-size="9" fill="#949494" text-anchor="start" font-weight="normal" textLength="19.50" lengthAdjust="spacingAndGlyphs" >04-21</text>
<text x="1040.00" y="138.00" font-family="Liberation Sans" font-size="9" fill="#949494" text-anchor="start" font-weight="normal" textLength="21.00" lengthAdjust="spacingAndGlyphs" >05-05</text>
<text x="1110.00" y="138.00" font-family="Liberation Sans" font-size="9" fill="#949494" text-anchor="start" font-weight="normal" textLength="19.50" lengthAdjust="spacingAndGlyphs" >05-19</text>
<text x="1180.00" y="138.00" font-family="Liberation Sans" font-size="9" fill="#949494" text-anchor="start" font-weight="normal" textLength="21.00" lengthAdjust="spacingAndGlyphs" >06-02</text>
<text x="2.60" y="145.00" font-family="'Liberation Serif','Noto Serif CJK SC',serif" font-size="12.5" fill="#0000ff">日</text>
<text x="15.40" y="145.00" font-family="Liberation Serif" font-size="11.5" fill="#0000ff" text-anchor="start" font-weight="bold" textLength="6.50" lengthAdjust="spacingAndGlyphs" >K</text>
<text x="22.30" y="145.00" font-family="'Liberation Serif','Noto Serif CJK SC',serif" font-size="12.5" fill="#0000ff">线</text>
<text x="70.60" y="153.20" font-family="'Liberation Serif','Noto Serif CJK SC',serif" font-size="13" fill="#000" textLength="51.10" lengthAdjust="spacing">极反通道</text>
<text x="141.00" y="153.50" font-family="Liberation Sans" font-size="11" fill="#ff0000" text-anchor="start" font-weight="normal" textLength="69.00" lengthAdjust="spacingAndGlyphs" >Tp=2361.4527</text>
<text x="219.50" y="153.50" font-family="Liberation Sans" font-size="11" fill="#0000ff" text-anchor="start" font-weight="normal" textLength="70.50" lengthAdjust="spacingAndGlyphs" >Up=2248.5172</text>
<text x="298.50" y="153.50" font-family="Liberation Sans" font-size="11" fill="#000000" text-anchor="start" font-weight="normal" textLength="72.00" lengthAdjust="spacingAndGlyphs" >Md=2119.5368</text>
<text x="377.00" y="153.50" font-family="Liberation Sans" font-size="11" fill="#0000ff" text-anchor="start" font-weight="normal" textLength="71.00" lengthAdjust="spacingAndGlyphs" >Dn=1948.2898</text>
<text x="456.30" y="153.50" font-family="Liberation Sans" font-size="11" fill="#ff0000" text-anchor="start" font-weight="normal" textLength="67.00" lengthAdjust="spacingAndGlyphs" >Bt=1792.2130</text>
<text x="1140.00" y="154.00" font-family="Liberation Serif" font-size="12.5" fill="#0000ff" text-anchor="start" font-weight="normal" textLength="39.50" lengthAdjust="spacingAndGlyphs" >1A0001</text>
<text x="1187.00" y="154.00" font-family="'Liberation Serif','Noto Serif CJK SC',serif" font-size="13" fill="#0000ff">上证指数</text>
<path d="M70 524.5H1238" stroke="#a4a4a4" stroke-width="1" stroke-dasharray="3 3" fill="none" shape-rendering="crispEdges"/>
<path d="M70 542.5H1238" stroke="#a4a4a4" stroke-width="1" stroke-dasharray="3 3" fill="none" shape-rendering="crispEdges"/>
<path d="M70 558.5H1238" stroke="#a4a4a4" stroke-width="1" stroke-dasharray="3 3" fill="none" shape-rendering="crispEdges"/>
<path d="M70 574.5H1238" stroke="#a4a4a4" stroke-width="1" stroke-dasharray="3 3" fill="none" shape-rendering="crispEdges"/>
<path d="M1029 375.5H1238" stroke="#909090" stroke-width="1" stroke-dasharray="6 1" fill="none" shape-rendering="crispEdges"/>
<text x="67.50" y="522.00" font-family="Liberation Serif" font-size="12" fill="#303030" text-anchor="end" font-weight="normal" textLength="54.00" lengthAdjust="spacingAndGlyphs" >1749.1233</text>
<text x="67.50" y="546.00" font-family="Liberation Serif" font-size="12" fill="#303030" text-anchor="end" font-weight="normal" textLength="54.00" lengthAdjust="spacingAndGlyphs" >126750535</text>
<text x="67.50" y="562.00" font-family="Liberation Serif" font-size="12" fill="#303030" text-anchor="end" font-weight="normal" textLength="48.00" lengthAdjust="spacingAndGlyphs" >84500357</text>
<text x="67.50" y="578.00" font-family="Liberation Serif" font-size="12" fill="#303030" text-anchor="end" font-weight="normal" textLength="48.00" lengthAdjust="spacingAndGlyphs" >42250178</text>
<path d="M73 268h1v17h-1zM70 268h6v13h-6zM70 533h6v57h-6zM94 255h1v9h-1zM91 255h6v3h-6zM91 532h6v58h-6zM101 261h1v24h-1zM98 261h6v19h-6zM98 531h6v59h-6zM108 271h1v14h-1zM105 275h6v7h-6zM105 542h6v48h-6zM129 261h1v13h-1zM126 261h6v9h-6zM126 534h6v56h-6zM136 262h1v26h-1zM133 269h6v16h-6zM133 535h6v55h-6zM143 286h1v12h-1zM140 288h6v8h-6zM140 551h6v39h-6zM150 293h1v26h-1zM147 296h6v17h-6zM147 547h6v43h-6zM157 310h1v8h-1zM154 311h6v1h-6zM154 557h6v33h-6zM164 297h1v37h-1zM161 312h6v3h-6zM161 536h6v54h-6zM178 301h1v9h-1zM175 301h6v7h-6zM175 549h6v41h-6zM192 299h1v8h-1zM189 300h6v4h-6zM189 561h6v29h-6zM206 296h1v14h-1zM203 304h6v5h-6zM203 552h6v38h-6zM213 309h1v12h-1zM210 311h6v4h-6zM210 559h6v31h-6zM220 316h1v13h-1zM217 320h6v8h-6zM217 559h6v31h-6zM241 321h1v18h-1zM238 321h6v17h-6zM238 557h6v33h-6zM269 275h1v9h-1zM266 277h6v3h-6zM266 543h6v47h-6zM290 271h1v10h-1zM287 273h6v5h-6zM287 547h6v43h-6zM304 281h1v8h-1zM301 285h6v1h-6zM301 552h6v38h-6zM325 263h1v6h-1zM322 265h6v1h-6zM322 549h6v41h-6zM353 247h1v8h-1zM350 247h6v3h-6zM350 544h6v46h-6zM360 251h1v8h-1zM357 253h6v3h-6zM357 551h6v39h-6zM367 250h1v9h-1zM364 253h6v2h-6zM364 555h6v35h-6zM374 249h1v9h-1zM371 253h6v1h-6zM371 549h6v41h-6zM381 260h1v20h-1zM378 260h6v14h-6zM378 549h6v41h-6zM402 276h1v22h-1zM399 278h6v20h-6zM399 552h6v38h-6zM409 296h1v10h-1zM406 297h6v5h-6zM406 560h6v30h-6zM416 301h1v7h-1zM413 303h6v2h-6zM413 566h6v24h-6zM423 300h1v17h-1zM420 302h6v14h-6zM420 562h6v28h-6zM430 315h1v26h-1zM427 315h6v24h-6zM427 557h6v33h-6zM444 326h1v16h-1zM441 334h6v1h-6zM441 563h6v27h-6zM458 330h1v17h-1zM455 330h6v16h-6zM455 560h6v30h-6zM472 325h1v9h-1zM469 326h6v6h-6zM469 562h6v28h-6zM486 324h1v7h-1zM483 324h6v2h-6zM483 564h6v26h-6zM493 330h1v14h-1zM490 330h6v10h-6zM490 558h6v32h-6zM500 343h1v24h-1zM497 343h6v18h-6zM497 556h6v34h-6zM514 352h1v14h-1zM511 360h6v1h-6zM511 563h6v27h-6zM521 356h1v16h-1zM518 363h6v8h-6zM518 561h6v29h-6zM528 371h1v10h-1zM525 373h6v6h-6zM525 561h6v29h-6zM535 372h1v14h-1zM532 378h6v3h-6zM532 565h6v25h-6zM549 372h1v8h-1zM546 373h6v1h-6zM546 564h6v26h-6zM563 376h1v9h-1zM560 376h6v7h-6zM560 565h6v25h-6zM570 384h1v10h-1zM567 385h6v6h-6zM567 569h6v21h-6zM591 358h1v7h-1zM588 359h6v4h-6zM588 558h6v32h-6zM605 362h1v8h-1zM602 362h6v6h-6zM602 556h6v34h-6zM626 361h1v8h-1zM623 361h6v7h-6zM623 566h6v24h-6zM661 320h1v13h-1zM658 327h6v5h-6zM658 535h6v55h-6zM682 312h1v12h-1zM679 312h6v9h-6zM679 536h6v54h-6zM696 289h1v22h-1zM693 302h6v8h-6zM693 531h6v59h-6zM703 314h1v18h-1zM700 314h6v10h-6zM700 545h6v45h-6zM710 331h1v23h-1zM707 331h6v13h-6zM707 543h6v47h-6zM717 339h1v32h-1zM714 344h6v23h-6zM714 537h6v53h-6zM759 346h1v12h-1zM756 346h6v11h-6zM756 549h6v41h-6zM773 343h1v15h-1zM770 354h6v1h-6zM770 551h6v39h-6zM780 363h1v26h-1zM777 363h6v24h-6zM777 546h6v44h-6zM808 377h1v14h-1zM805 381h6v3h-6zM805 557h6v33h-6zM822 368h1v7h-1zM819 372h6v1h-6zM819 553h6v37h-6zM836 370h1v20h-1zM833 377h6v13h-6zM833 548h6v42h-6zM864 346h1v8h-1zM861 347h6v4h-6zM861 551h6v39h-6zM871 346h1v17h-1zM868 353h6v6h-6zM868 545h6v45h-6zM878 354h1v13h-1zM875 360h6v3h-6zM875 544h6v46h-6zM885 361h1v12h-1zM882 362h6v6h-6zM882 554h6v36h-6zM906 351h1v14h-1zM903 351h6v11h-6zM903 549h6v41h-6zM955 317h1v15h-1zM952 317h6v13h-6zM952 549h6v41h-6zM969 326h1v7h-1zM966 326h6v6h-6zM966 556h6v34h-6zM983 330h1v19h-1zM980 339h6v10h-6zM980 554h6v36h-6zM997 345h1v9h-1zM994 349h6v1h-6zM994 560h6v30h-6zM1004 345h1v10h-1zM1001 350h6v5h-6zM1001 560h6v30h-6zM1011 351h1v16h-1zM1008 353h6v13h-6zM1008 555h6v35h-6zM1018 367h1v19h-1zM1015 368h6v16h-6zM1015 556h6v34h-6z" fill="#008000" shape-rendering="crispEdges"/>
<path d="M80 260h1v16h-1zM77 261h6v14h-6zM87 252h1v10h-1zM84 255h6v3h-6zM115 274h1v11h-1zM112 280h6v2h-6zM122 259h1v22h-1zM119 260h6v17h-6zM171 297h1v22h-1zM168 298h6v17h-6zM185 300h1v13h-1zM182 304h6v4h-6zM199 299h1v18h-1zM196 300h6v8h-6zM227 322h1v12h-1zM224 326h6v3h-6zM234 316h1v10h-1zM231 316h6v8h-6zM248 330h1v13h-1zM245 331h6v7h-6zM255 302h1v28h-1zM252 311h6v19h-6zM262 277h1v30h-1zM259 278h6v27h-6zM276 272h1v10h-1zM273 272h6v3h-6zM283 273h1v14h-1zM280 273h6v5h-6zM297 271h1v14h-1zM294 284h6v1h-6zM311 272h1v17h-1zM308 276h6v10h-6zM318 257h1v18h-1zM315 265h6v8h-6zM332 259h1v32h-1zM329 272h6v2h-6zM339 261h1v19h-1zM336 264h6v14h-6zM346 243h1v24h-1zM343 248h6v17h-6zM388 268h1v10h-1zM385 275h6v1h-6zM395 274h1v11h-1zM392 278h6v5h-6zM437 331h1v17h-1zM434 337h6v1h-6zM451 327h1v11h-1zM448 328h6v6h-6zM465 325h1v23h-1zM462 330h6v15h-6zM479 320h1v18h-1zM476 322h6v14h-6zM507 357h1v13h-1zM504 360h6v7h-6zM542 371h1v13h-1zM539 371h6v11h-6zM556 367h1v11h-1zM553 373h6v1h-6zM577 378h1v11h-1zM574 381h6v8h-6zM584 357h1v24h-1zM581 358h6v23h-6zM598 353h1v14h-1zM595 356h6v8h-6zM612 360h1v11h-1zM609 365h6v1h-6zM619 358h1v6h-1zM616 359h6v4h-6zM633 361h1v17h-1zM630 362h6v11h-6zM640 338h1v20h-1zM637 339h6v19h-6zM647 326h1v15h-1zM644 329h6v10h-6zM654 325h1v8h-1zM651 326h6v3h-6zM668 322h1v12h-1zM665 322h6v10h-6zM675 311h1v10h-1zM672 312h6v5h-6zM689 302h1v23h-1zM686 309h6v12h-6zM724 363h1v15h-1zM721 363h6v7h-6zM731 349h1v17h-1zM728 360h6v1h-6zM738 354h1v20h-1zM735 355h6v9h-6zM745 343h1v16h-1zM742 346h6v11h-6zM752 345h1v13h-1zM749 347h6v2h-6zM766 352h1v17h-1zM763 353h6v5h-6zM787 382h1v12h-1zM784 386h6v3h-6zM794 380h1v20h-1zM791 387h6v1h-6zM801 370h1v18h-1zM798 377h6v8h-6zM815 374h1v12h-1zM812 374h6v6h-6zM829 374h1v11h-1zM826 374h6v1h-6zM843 358h1v35h-1zM840 360h6v33h-6zM850 345h1v17h-1zM847 350h6v8h-6zM857 342h1v12h-1zM854 349h6v2h-6zM892 358h1v13h-1zM889 360h6v9h-6zM899 353h1v7h-1zM896 354h6v4h-6zM913 353h1v14h-1zM910 354h6v11h-6zM920 330h1v27h-1zM917 332h6v24h-6zM927 326h1v7h-1zM924 328h6v3h-6zM934 305h1v27h-1zM931 312h6v15h-6zM941 310h1v10h-1zM938 314h6v1h-6zM948 312h1v10h-1zM945 314h6v2h-6zM962 324h1v11h-1zM959 328h6v5h-6zM976 331h1v10h-1zM973 332h6v4h-6zM990 346h1v14h-1zM987 346h6v6h-6zM1025 374h1v13h-1zM1022 375h6v10h-6z" fill="#ff0000" shape-rendering="crispEdges"/>
<path d="M78 262h4v12h-4zM85 256h4v1h-4zM120 261h4v15h-4zM169 299h4v15h-4zM183 305h4v2h-4zM197 301h4v6h-4zM225 327h4v1h-4zM232 317h4v6h-4zM246 332h4v5h-4zM253 312h4v17h-4zM260 279h4v25h-4zM274 273h4v1h-4zM281 274h4v3h-4zM309 277h4v8h-4zM316 266h4v6h-4zM337 265h4v12h-4zM344 249h4v15h-4zM393 279h4v3h-4zM449 329h4v4h-4zM463 331h4v13h-4zM477 323h4v12h-4zM505 361h4v5h-4zM540 372h4v9h-4zM575 382h4v6h-4zM582 359h4v21h-4zM596 357h4v6h-4zM617 360h4v2h-4zM631 363h4v9h-4zM638 340h4v17h-4zM645 330h4v8h-4zM652 327h4v1h-4zM666 323h4v8h-4zM673 313h4v3h-4zM687 310h4v10h-4zM722 364h4v5h-4zM736 356h4v7h-4zM743 347h4v9h-4zM764 354h4v3h-4zM785 387h4v1h-4zM799 378h4v6h-4zM813 375h4v4h-4zM841 361h4v31h-4zM848 351h4v6h-4zM890 361h4v7h-4zM897 355h4v2h-4zM911 355h4v9h-4zM918 333h4v22h-4zM925 329h4v1h-4zM932 313h4v13h-4zM960 329h4v3h-4zM974 333h4v2h-4zM988 347h4v4h-4zM1023 376h4v8h-4z" fill="#ffffff" shape-rendering="crispEdges"/>
<path d="M77 531h6v59h-6zM78 532h4v57h-4zM84 527h6v63h-6zM85 528h4v61h-4zM112 551h6v39h-6zM113 552h4v37h-4zM119 538h6v52h-6zM120 539h4v50h-4zM168 545h6v45h-6zM169 546h4v43h-4zM182 556h6v34h-6zM183 557h4v32h-4zM196 555h6v35h-6zM197 556h4v33h-4zM224 564h6v26h-6zM225 565h4v24h-4zM231 560h6v30h-6zM232 561h4v28h-4zM245 558h6v32h-6zM246 559h4v30h-4zM252 542h6v48h-6zM253 543h4v46h-4zM259 530h6v60h-6zM260 531h4v58h-4zM273 545h6v45h-6zM274 546h4v43h-4zM280 538h6v52h-6zM281 539h4v50h-4zM294 549h6v41h-6zM295 550h4v39h-4zM308 546h6v44h-6zM309 547h4v42h-4zM315 539h6v51h-6zM316 540h4v49h-4zM329 524h6v66h-6zM330 525h4v64h-4zM336 547h6v43h-6zM337 548h4v41h-4zM343 530h6v60h-6zM344 531h4v58h-4zM385 557h6v33h-6zM386 558h4v31h-4zM392 558h6v32h-6zM393 559h4v30h-4zM434 564h6v26h-6zM435 565h4v24h-4zM448 565h6v25h-6zM449 566h4v23h-4zM462 561h6v29h-6zM463 562h4v27h-4zM476 560h6v30h-6zM477 561h4v28h-4zM504 566h6v24h-6zM505 567h4v22h-4zM539 563h6v27h-6zM540 564h4v25h-4zM553 562h6v28h-6zM554 563h4v26h-4zM574 567h6v23h-6zM575 568h4v21h-4zM581 553h6v37h-6zM582 554h4v35h-4zM595 555h6v35h-6zM596 556h4v33h-4zM609 563h6v27h-6zM610 564h4v25h-4zM616 562h6v28h-6zM617 563h4v26h-4zM630 562h6v28h-6zM631 563h4v26h-4zM637 543h6v47h-6zM638 544h4v45h-4zM644 536h6v54h-6zM645 537h4v52h-4zM651 542h6v48h-6zM652 543h4v46h-4zM665 548h6v42h-6zM666 549h4v40h-4zM672 537h6v53h-6zM673 538h4v51h-4zM686 533h6v57h-6zM687 534h4v55h-4zM721 548h6v42h-6zM722 549h4v40h-4zM728 540h6v50h-6zM729 541h4v48h-4zM735 548h6v42h-6zM736 549h4v40h-4zM742 542h6v48h-6zM743 543h4v46h-4zM749 546h6v44h-6zM750 547h4v42h-4zM763 549h6v41h-6zM764 550h4v39h-4zM784 555h6v35h-6zM785 556h4v33h-4zM791 552h6v38h-6zM792 553h4v36h-4zM798 552h6v38h-6zM799 553h4v36h-4zM812 557h6v33h-6zM813 558h4v31h-4zM826 554h6v36h-6zM827 555h4v34h-4zM840 535h6v55h-6zM841 536h4v53h-4zM847 534h6v56h-6zM848 535h4v54h-4zM854 540h6v50h-6zM855 541h4v48h-4zM889 558h6v32h-6zM890 559h4v30h-4zM896 551h6v39h-6zM897 552h4v37h-4zM910 558h6v32h-6zM911 559h4v30h-4zM917 539h6v51h-6zM918 540h4v49h-4zM924 550h6v40h-6zM925 551h4v38h-4zM931 531h6v59h-6zM932 532h4v57h-4zM938 540h6v50h-6zM939 541h4v48h-4zM945 551h6v39h-6zM946 552h4v37h-4zM959 556h6v34h-6zM960 557h4v32h-4zM973 557h6v33h-6zM974 558h4v31h-4zM987 553h6v37h-6zM988 554h4v35h-4zM1022 561h6v29h-6zM1023 562h4v27h-4z" fill="#ff0000" fill-rule="evenodd" shape-rendering="crispEdges"/>
<path d="M73.5 189.5 L85.7 185.8 L95.8 182.7 L108.4 177.7 L116.0 176.9 L126.1 172.6 L136.2 168.6 L143.7 167.3 L151.3 164.8 L158.9 163.5 L166.4 160.5 L171.5 158.7 L179.1 160.0 L185.9 159.7 L193.0 169.3 L201.8 169.3 L211.9 168.1 L219.4 166.8 L227.1 168.6 L234.6 170.6 L242.2 168.8 L248.4 169.8 L257.4 166.3 L262.4 164.3 L272.4 164.3 L282.6 161.8 L290.2 159.7 L296.4 158.7 L302.8 161.8 L309.1 163.5 L315.4 163.8 L325.4 166.8 L333.1 165.0 L343.2 164.3 L353.4 164.3 L363.4 163.8 L373.0 165.0 L385.7 164.3 L398.3 162.3 L408.4 163.0 L421.0 165.6 L436.2 164.3 L443.7 166.1 L453.8 168.6 L463.9 170.1 L474.0 172.6 L484.1 175.7 L494.2 178.2 L500.6 177.4 L509.4 182.7 L517.0 184.5 L527.1 185.8 L537.2 188.3 L549.8 191.3 L562.4 193.8 L575.0 197.1 L587.7 197.9 L595.2 199.6 L606.6 206.5 L615.4 209.2 L628.1 213.5 L638.2 215.3 L650.8 216.6 L660.4 219.3 L669.2 219.5 L676.8 225.4 L688.2 227.6 L698.3 226.6 L710.9 226.6 L718.0 224.6 L726.1 227.9 L738.7 228.4 L748.8 230.9 L761.4 231.7 L774.0 234.2 L786.7 235.2 L799.3 236.0 L809.4 238.5 L817.0 239.2 L822.0 241.5 L837.2 241.5 L849.8 239.7 L859.9 239.7 L864.9 241.0 L872.4 239.0 L887.7 239.0 L900.3 239.0 L912.9 236.0 L921.8 232.7 L928.1 234.7 L935.7 230.9 L945.8 230.1 L953.0 228.2 L965.7 225.7 L985.9 225.7 L1001.0 227.4 L1021.2 227.4 L1028.8 229.9 L1041.4 238.3 L1051.4 244.6 L1061.6 251.7 L1076.8 258.5 L1091.9 264.8 L1112.1 273.6 L1126.0 280.4 L1137.4 283.2 L1147.4 287.5 L1162.6 291.8 L1175.2 294.3 L1187.9 302.7 L1195.4 305.9 L1205.4 309.0 L1218.2 314.8 L1235.4 319.6" stroke="#ff0000" stroke-width="1" fill="none" shape-rendering="crispEdges"/>
<path d="M73.5 251.9 L85.7 248.4 L95.8 244.4 L105.9 241.4 L116.0 238.8 L123.4 235.8 L131.1 234.2 L136.2 231.7 L143.7 230.4 L150.0 227.9 L158.9 226.7 L166.4 225.4 L176.4 224.9 L184.1 223.6 L186.7 224.1 L193.4 229.4 L201.8 228.7 L211.9 227.4 L219.4 226.2 L227.1 227.4 L237.2 227.4 L248.4 227.4 L257.4 224.9 L262.4 223.6 L272.4 223.6 L282.6 221.6 L290.2 219.6 L297.8 219.6 L304.1 221.6 L312.9 222.1 L320.4 222.4 L325.4 223.6 L333.1 222.9 L343.2 222.6 L353.4 222.6 L360.9 221.9 L375.4 222.4 L385.7 221.1 L398.3 220.4 L410.9 221.6 L423.4 222.9 L436.2 223.1 L446.3 225.7 L456.4 228.2 L469.0 230.4 L481.6 233.0 L494.2 235.5 L501.8 236.3 L509.4 238.8 L522.0 240.8 L537.2 243.3 L549.8 246.4 L562.4 249.6 L575.0 252.2 L587.7 253.2 L595.2 254.7 L605.4 258.5 L615.4 261.5 L628.1 265.8 L638.2 267.1 L650.8 268.3 L660.4 271.3 L673.0 274.6 L685.7 277.1 L698.3 277.6 L710.9 279.4 L723.5 280.7 L736.2 283.2 L748.8 286.5 L761.4 287.0 L774.0 289.7 L786.7 290.8 L799.3 292.0 L811.9 294.5 L824.5 296.6 L847.3 296.6 L854.8 295.3 L864.9 297.1 L875.0 294.8 L900.3 294.8 L912.9 292.8 L920.4 290.8 L930.4 289.7 L938.2 288.2 L950.8 286.5 L965.7 283.7 L985.9 283.7 L1001.0 285.5 L1021.2 285.5 L1028.8 288.0 L1041.4 293.8 L1051.4 297.6 L1061.6 301.9 L1076.8 305.7 L1091.9 309.4 L1107.1 312.8 L1122.2 317.3 L1137.4 319.8 L1152.4 322.9 L1162.6 324.1 L1175.2 324.9 L1187.9 329.7 L1205.4 334.2 L1218.2 336.8 L1235.4 340.6" stroke="#0000ff" stroke-width="1" fill="none" shape-rendering="crispEdges"/>
<path d="M73.4 322.8 L86.4 319.7 L95.7 315.5 L109.3 310.4 L127.8 304.9 L146.4 301.1 L165.0 299.4 L188.6 296.9 L208.9 295.2 L219.0 294.0 L239.3 293.5 L246.1 294.0 L256.2 293.5 L273.1 290.2 L280.4 289.7 L293.9 288.0 L310.8 288.0 L319.3 288.9 L336.1 289.7 L349.7 289.7 L358.1 288.0 L378.4 287.4 L381.8 286.5 L412.2 286.5 L420.6 288.2 L432.4 290.6 L449.3 293.6 L466.2 297.0 L483.1 299.5 L496.8 300.2 L520.4 304.4 L551.4 310.4 L572.4 313.8 L589.4 316.3 L599.4 316.8 L614.4 320.4 L630.4 324.9 L647.3 327.6 L664.2 330.7 L681.1 333.5 L701.4 336.1 L718.2 341.1 L731.8 344.9 L741.9 347.1 L755.4 348.7 L765.4 350.4 L775.7 351.3 L790.9 353.8 L807.8 356.0 L824.7 358.0 L834.6 359.6 L865.0 359.6 L878.4 358.9 L888.6 357.9 L905.4 357.2 L922.4 355.5 L939.3 354.2 L952.8 352.2 L968.0 349.8 L984.9 349.4 L1011.9 350.3 L1018.4 352.8 L1035.4 355.4 L1044.0 357.9 L1052.4 359.1 L1077.8 359.1 L1094.7 360.4 L1106.8 362.2 L1138.8 362.2 L1151.6 361.2 L1183.6 361.2 L1206.0 362.8 L1234.8 363.8" stroke="#000000" stroke-width="1" fill="none" shape-rendering="crispEdges"/>
<path d="M73.5 417.9 L83.1 413.8 L95.8 409.0 L108.4 405.8 L116.0 402.7 L128.6 399.9 L141.2 397.7 L151.3 396.9 L158.9 395.7 L171.5 398.7 L185.9 396.4 L193.4 388.6 L201.8 387.3 L211.9 386.1 L222.0 385.6 L234.6 381.8 L242.2 382.5 L248.4 381.8 L262.4 384.8 L275.0 381.8 L282.6 381.0 L297.8 381.0 L305.4 378.0 L318.0 378.0 L325.4 376.7 L336.9 379.7 L345.8 379.7 L355.9 378.0 L363.4 377.2 L370.4 375.4 L380.4 374.7 L419.7 374.7 L426.1 377.2 L436.2 381.3 L447.4 382.3 L458.9 384.8 L469.0 386.8 L494.2 386.8 L501.1 388.8 L509.4 386.8 L517.0 387.3 L527.1 390.6 L537.2 393.1 L552.4 395.1 L567.4 396.4 L582.6 399.4 L597.8 399.4 L604.1 398.7 L612.9 400.7 L628.1 403.2 L645.8 408.3 L658.4 409.5 L670.4 410.6 L678.1 409.4 L685.7 409.6 L698.3 413.1 L710.9 418.7 L718.4 423.2 L726.1 425.0 L736.2 428.8 L748.8 430.8 L761.4 433.8 L766.4 434.6 L774.0 433.8 L786.7 436.6 L799.3 439.6 L811.9 440.4 L824.5 441.4 L837.2 444.2 L843.4 445.4 L859.9 445.4 L875.0 444.2 L895.2 443.9 L902.8 442.7 L907.9 443.4 L912.9 442.9 L919.2 443.9 L928.1 441.7 L934.4 442.9 L943.2 440.9 L956.4 439.6 L972.4 438.0 L991.6 438.0 L1007.6 439.6 L1025.2 443.8 L1036.4 441.2 L1050.8 439.6 L1062.0 434.8 L1081.2 430.0 L1103.6 426.8 L1119.6 422.6 L1138.8 415.6 L1158.0 411.4 L1174.0 408.6 L1188.4 401.2 L1206.0 399.0 L1222.0 396.4 L1234.8 394.2" stroke="#0000ff" stroke-width="1" fill="none" shape-rendering="crispEdges"/>
<path d="M73.5 502.5 L85.7 497.9 L95.8 495.4 L108.4 490.4 L116.0 487.8 L126.1 487.1 L136.2 485.3 L143.7 484.0 L151.3 485.8 L158.9 484.0 L171.5 488.6 L185.9 485.3 L193.0 471.4 L201.8 469.4 L211.9 468.1 L222.0 467.1 L234.6 461.8 L241.0 463.8 L248.4 463.1 L262.4 467.6 L275.0 464.3 L282.6 463.8 L290.2 465.1 L297.8 463.8 L305.4 457.5 L312.9 457.5 L318.0 458.8 L325.4 455.8 L336.9 460.6 L345.8 460.6 L355.9 458.8 L363.4 457.0 L370.4 455.0 L380.4 454.5 L398.3 455.0 L405.9 455.5 L416.0 453.2 L423.4 455.0 L436.2 463.3 L451.3 463.8 L463.9 467.1 L481.6 467.6 L493.4 465.1 L501.1 468.9 L509.4 463.8 L517.0 464.3 L529.6 466.9 L539.7 470.7 L552.4 470.9 L567.4 472.2 L585.1 477.0 L595.2 474.7 L605.9 470.9 L615.4 472.7 L628.1 473.9 L638.2 478.2 L648.3 482.0 L658.4 480.8 L669.2 482.6 L676.8 479.3 L684.4 478.3 L690.7 480.0 L700.8 485.1 L709.6 489.6 L718.4 497.7 L727.4 500.2 L738.7 505.8 L746.3 506.1 L756.4 508.6 L766.4 511.6 L774.0 509.8 L781.6 511.6 L789.2 512.1 L799.3 516.2 L806.9 515.4 L817.0 517.4 L827.1 516.7 L837.2 520.4 L844.7 523.5 L859.9 523.5 L864.9 521.7 L872.4 522.5 L887.7 521.0 L895.2 521.7 L902.8 521.0 L912.9 522.2 L920.4 523.5 L928.1 519.9 L934.4 522.5 L945.8 519.9 L953.2 519.6 L962.8 521.2 L977.2 517.4 L988.4 517.4 L996.4 518.6 L1004.4 517.4 L1012.4 519.6 L1018.8 523.4" stroke="#ff0000" stroke-width="1" fill="none" shape-rendering="crispEdges"/>
<path d="M1025.2 525.0 L1036.4 519.6 L1052.4 512.2 L1062.0 503.6 L1078.0 495.6 L1094.0 488.6 L1103.6 485.4 L1119.6 478.0 L1138.8 466.8 L1158.0 456.6 L1167.6 454.0 L1178.8 448.6 L1186.8 439.6 L1196.4 435.8 L1209.2 432.6 L1222.0 427.4 L1234.8 422.0" stroke="#ff0000" stroke-width="1" fill="none" shape-rendering="crispEdges"/>
<path d="M346 243.5L366.5 248.5" stroke="#0000ff" stroke-width="1" fill="none" shape-rendering="crispEdges"/>
<text x="367.00" y="258.60" font-family="Liberation Sans" font-size="11" fill="#0000ff" text-anchor="start" font-weight="normal" textLength="58.00" lengthAdjust="spacingAndGlyphs" >2260.8701</text>
<path d="M795.5 400.5L814.5 395.5" stroke="#0000ff" stroke-width="1" fill="none" shape-rendering="crispEdges"/>
<text x="814.20" y="398.00" font-family="Liberation Sans" font-size="11" fill="#0000ff" text-anchor="start" font-weight="normal" textLength="58.00" lengthAdjust="spacingAndGlyphs" >1974.3800</text>
<path d="M679 528L682.5 524L686 528z" fill="#000"/>
<path d="M4 593h1v1h-1zM7 593h2v1h-2zM10 593h2v1h-2zM16 593h9v1h-9zM46 593h1v1h-1z" fill="#0000ff" shape-rendering="crispEdges"/>
</svg>
</body></html>
